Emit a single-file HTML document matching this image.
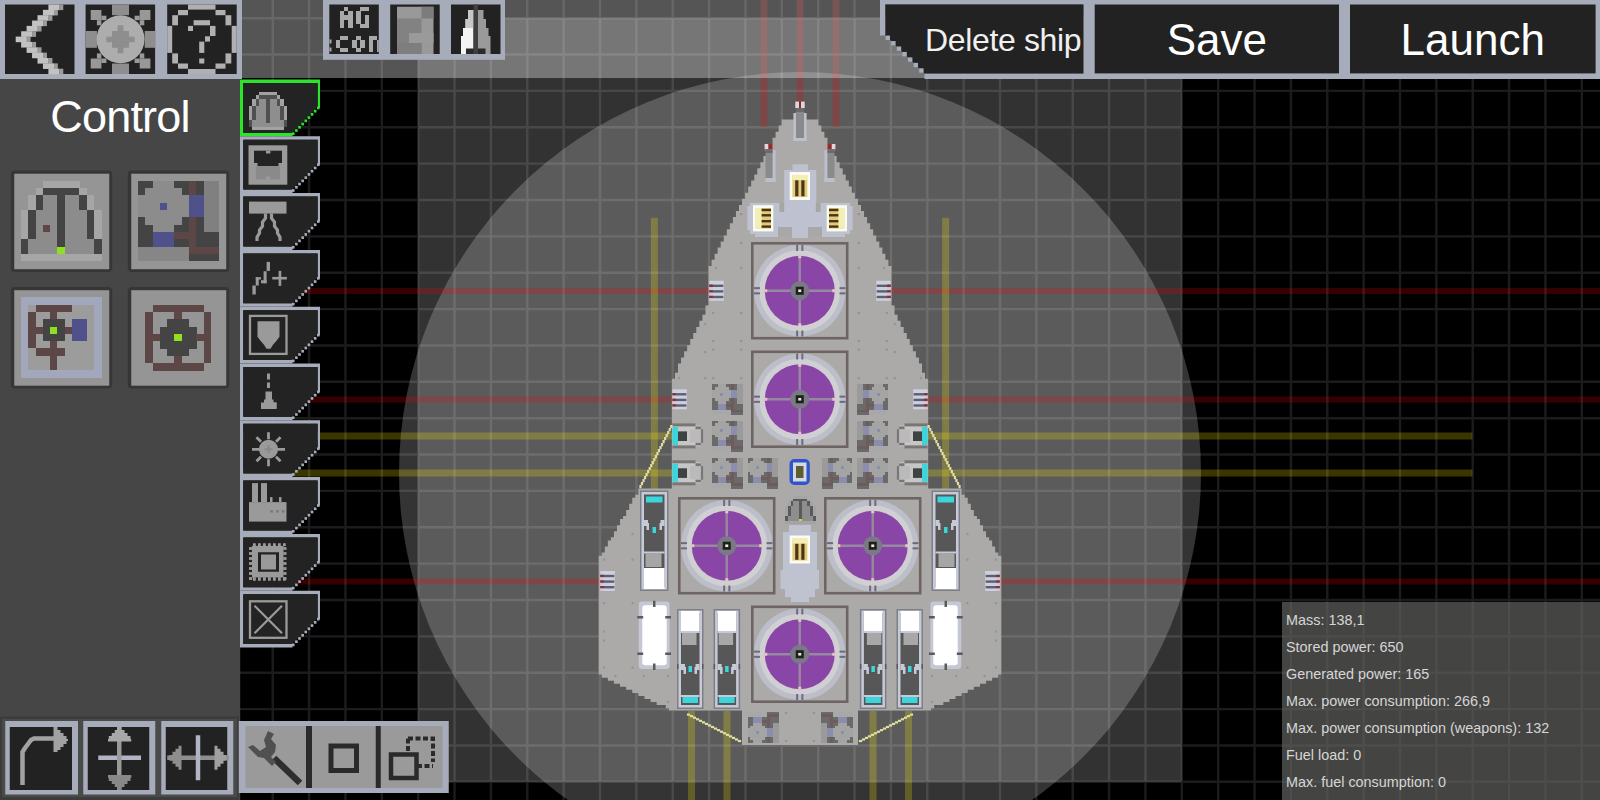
<!DOCTYPE html><html><head><meta charset="utf-8"><style>
*{margin:0;padding:0;box-sizing:border-box}
html,body{width:1600px;height:800px;overflow:hidden;background:#000;font-family:"Liberation Sans",sans-serif}
.a{position:absolute}
.fr{background:#a6abb8}
.dk{background:#222}
</style></head><body><svg width="1600" height="800" viewBox="0 0 1600 800" style="position:absolute;left:0;top:0"><rect x="0" y="0" width="1600" height="800" fill="#000"/><rect x="418.2" y="18.18" width="763.6" height="763.6" fill="#323232"/><path d="M18.18 0V800M54.54 0V800M90.91 0V800M127.27 0V800M163.63 0V800M200 0V800M236.36 0V800M272.73 0V800M309.09 0V800M345.45 0V800M381.82 0V800M418.18 0V800M454.54 0V800M490.91 0V800M527.27 0V800M563.63 0V800M600 0V800M636.36 0V800M672.72 0V800M709.09 0V800M745.45 0V800M781.82 0V800M818.18 0V800M854.54 0V800M890.91 0V800M927.27 0V800M963.63 0V800M1000 0V800M1036.36 0V800M1072.72 0V800M1109.09 0V800M1145.45 0V800M1181.82 0V800M1218.18 0V800M1254.54 0V800M1290.91 0V800M1327.27 0V800M1363.63 0V800M1400 0V800M1436.36 0V800M1472.72 0V800M1509.09 0V800M1545.45 0V800M1581.81 0V800M1618.18 0V800M0 18.18H1600M0 54.54H1600M0 90.91H1600M0 127.27H1600M0 163.63H1600M0 200H1600M0 236.36H1600M0 272.73H1600M0 309.09H1600M0 345.45H1600M0 381.82H1600M0 418.18H1600M0 454.54H1600M0 490.91H1600M0 527.27H1600M0 563.63H1600M0 600H1600M0 636.36H1600M0 672.72H1600M0 709.09H1600M0 745.45H1600M0 781.82H1600M0 818.18H1600" stroke="#fff" stroke-opacity="0.11" stroke-width="2.4" fill="none"/><circle cx="800" cy="473" r="401" fill="#fff" fill-opacity="0.205"/><rect x="240" y="288" width="1360" height="6" fill="#ff0000" fill-opacity="0.21"/><rect x="240" y="396.5" width="1360" height="6" fill="#ff0000" fill-opacity="0.21"/><rect x="240" y="578.5" width="1360" height="6" fill="#ff0000" fill-opacity="0.21"/><rect x="240" y="432.5" width="1232.4" height="7" fill="#fff000" fill-opacity="0.225"/><rect x="240" y="469.5" width="1232.4" height="7" fill="#fff000" fill-opacity="0.225"/><rect x="650.9" y="217.8" width="7" height="272.2" fill="#fff000" fill-opacity="0.225"/><rect x="942.1" y="217.8" width="7" height="272.2" fill="#fff000" fill-opacity="0.225"/><rect x="760.5" y="0" width="7" height="127" fill="#ff0000" fill-opacity="0.21"/><rect x="796.5" y="0" width="7" height="102" fill="#ff0000" fill-opacity="0.21"/><rect x="832.5" y="0" width="7" height="127" fill="#ff0000" fill-opacity="0.21"/><rect x="688" y="711" width="7" height="89" fill="#fff000" fill-opacity="0.225"/><rect x="723.5" y="711" width="7" height="89" fill="#fff000" fill-opacity="0.225"/><rect x="869.5" y="711" width="7" height="89" fill="#fff000" fill-opacity="0.225"/><rect x="905" y="711" width="7" height="89" fill="#fff000" fill-opacity="0.225"/><polygon points="781.7,119.5 781.7,122.55 781.7,122.55 781.7,125.6 778.65,125.6 778.65,128.65 778.65,128.65 778.65,131.7 775.6,131.7 775.6,134.75 775.6,134.75 775.6,137.8 772.55,137.8 772.55,140.85 772.55,140.85 772.55,143.9 769.5,143.9 769.5,146.95 769.5,146.95 769.5,150 766.45,150 766.45,153.05 766.45,153.05 766.45,156.1 763.4,156.1 763.4,159.15 763.4,159.15 763.4,162.2 760.35,162.2 760.35,165.25 760.35,165.25 760.35,168.3 757.3,168.3 757.3,171.35 757.3,171.35 757.3,174.4 754.25,174.4 754.25,177.45 754.25,177.45 754.25,180.5 751.2,180.5 751.2,183.55 751.2,183.55 751.2,186.6 748.15,186.6 748.15,189.65 748.15,189.65 748.15,192.7 745.1,192.7 745.1,195.75 745.1,195.75 745.1,198.8 742.05,198.8 742.05,201.85 742.05,201.85 742.05,204.9 739,204.9 739,207.95 739,207.95 739,211 735.95,211 735.95,214.05 735.95,214.05 735.95,217.1 732.9,217.1 732.9,220.15 732.9,220.15 732.9,223.2 729.85,223.2 729.85,226.25 729.85,226.25 729.85,229.3 726.8,229.3 726.8,232.35 726.8,232.35 726.8,235.4 723.75,235.4 723.75,238.45 723.75,238.45 723.75,241.5 720.7,241.5 720.7,244.55 720.7,244.55 720.7,247.6 717.65,247.6 717.65,250.65 717.65,250.65 717.65,253.7 714.6,253.7 714.6,256.75 714.6,256.75 714.6,259.8 711.55,259.8 711.55,262.85 711.55,262.85 711.55,265.9 708.5,265.9 708.5,268.95 708.5,268.95 708.5,272 708.5,272 708.5,275.05 708.5,275.05 708.5,278.1 708.5,278.1 708.5,281.15 708.5,281.15 708.5,284.2 708.5,284.2 708.5,287.25 708.5,287.25 708.5,290.3 708.5,290.3 708.5,293.35 708.5,293.35 708.5,296.4 708.5,296.4 708.5,299.45 708.5,299.45 708.5,302.5 708.5,302.5 708.5,305.55 705.45,305.55 705.45,308.6 705.45,308.6 705.45,311.65 705.45,311.65 705.45,314.7 702.4,314.7 702.4,317.75 702.4,317.75 702.4,320.8 699.35,320.8 699.35,323.85 699.35,323.85 699.35,326.9 696.3,326.9 696.3,329.95 696.3,329.95 696.3,333 693.25,333 693.25,336.05 693.25,336.05 693.25,339.1 690.2,339.1 690.2,342.15 690.2,342.15 690.2,345.2 687.15,345.2 687.15,348.25 687.15,348.25 687.15,351.3 684.1,351.3 684.1,354.35 684.1,354.35 684.1,357.4 681.05,357.4 681.05,360.45 681.05,360.45 681.05,363.5 678,363.5 678,366.55 678,366.55 678,369.6 678,369.6 678,372.65 674.95,372.65 674.95,375.7 674.95,375.7 674.95,378.75 671.9,378.75 671.9,381.8 671.9,381.8 671.9,384.85 671.9,384.85 671.9,387.9 671.9,387.9 671.9,390.95 671.9,390.95 671.9,394 671.9,394 671.9,397.05 671.9,397.05 671.9,400.1 671.9,400.1 671.9,403.15 671.9,403.15 671.9,406.2 671.9,406.2 671.9,409.25 671.9,409.25 671.9,412.3 671.9,412.3 671.9,415.35 671.9,415.35 671.9,418.4 671.9,418.4 671.9,421.45 671.9,421.45 671.9,424.5 671.9,424.5 671.9,427.55 671.9,427.55 671.9,430.6 671.9,430.6 671.9,433.65 671.9,433.65 671.9,436.7 671.9,436.7 671.9,439.75 671.9,439.75 671.9,442.8 671.9,442.8 671.9,445.85 671.9,445.85 671.9,448.9 671.9,448.9 671.9,451.95 671.9,451.95 671.9,455 671.9,455 671.9,458.05 671.9,458.05 671.9,461.1 671.9,461.1 671.9,464.15 671.9,464.15 671.9,467.2 671.9,467.2 671.9,470.25 671.9,470.25 671.9,473.3 671.9,473.3 671.9,476.35 671.9,476.35 671.9,479.4 671.9,479.4 671.9,482.45 671.9,482.45 671.9,485.5 671.9,485.5 671.9,488.55 638.35,488.55 638.35,491.6 638.35,491.6 638.35,494.65 635.3,494.65 635.3,497.7 632.25,497.7 632.25,500.75 632.25,500.75 632.25,503.8 629.2,503.8 629.2,506.85 629.2,506.85 629.2,509.9 626.15,509.9 626.15,512.95 626.15,512.95 626.15,516 623.1,516 623.1,519.05 620.05,519.05 620.05,522.1 620.05,522.1 620.05,525.15 617,525.15 617,528.2 617,528.2 617,531.25 613.95,531.25 613.95,534.3 613.95,534.3 613.95,537.35 610.9,537.35 610.9,540.4 607.85,540.4 607.85,543.45 607.85,543.45 607.85,546.5 604.8,546.5 604.8,549.55 604.8,549.55 604.8,552.6 601.75,552.6 601.75,555.65 598.7,555.65 598.7,558.7 598.7,558.7 598.7,561.75 598.7,561.75 598.7,564.8 598.7,564.8 598.7,567.85 598.7,567.85 598.7,570.9 598.7,570.9 598.7,573.95 598.7,573.95 598.7,577 598.7,577 598.7,580.05 598.7,580.05 598.7,583.1 598.7,583.1 598.7,586.15 598.7,586.15 598.7,589.2 598.7,589.2 598.7,592.25 598.7,592.25 598.7,595.3 598.7,595.3 598.7,598.35 598.7,598.35 598.7,601.4 598.7,601.4 598.7,604.45 598.7,604.45 598.7,607.5 598.7,607.5 598.7,610.55 598.7,610.55 598.7,613.6 598.7,613.6 598.7,616.65 598.7,616.65 598.7,619.7 598.7,619.7 598.7,622.75 598.7,622.75 598.7,625.8 598.7,625.8 598.7,628.85 598.7,628.85 598.7,631.9 598.7,631.9 598.7,634.95 598.7,634.95 598.7,638 598.7,638 598.7,641.05 598.7,641.05 598.7,644.1 598.7,644.1 598.7,647.15 598.7,647.15 598.7,650.2 598.7,650.2 598.7,653.25 598.7,653.25 598.7,656.3 598.7,656.3 598.7,659.35 598.7,659.35 598.7,662.4 598.7,662.4 598.7,665.45 598.7,665.45 598.7,668.5 598.7,668.5 598.7,671.55 598.7,671.55 598.7,674.6 601.75,674.6 601.75,677.65 607.85,677.65 607.85,680.7 613.95,680.7 613.95,683.75 620.05,683.75 620.05,686.8 626.15,686.8 626.15,689.85 632.25,689.85 632.25,692.9 638.35,692.9 638.35,695.95 644.45,695.95 644.45,699 650.55,699 650.55,702.05 656.65,702.05 656.65,705.1 665.8,705.1 665.8,708.15 668.85,708.15 668.85,710.5 742,710.5 742,745 858,745 858,710.5 931.15,710.5 931.15,708.15 934.2,708.15 934.2,705.1 943.35,705.1 943.35,702.05 949.45,702.05 949.45,699 955.55,699 955.55,695.95 961.65,695.95 961.65,692.9 967.75,692.9 967.75,689.85 973.85,689.85 973.85,686.8 979.95,686.8 979.95,683.75 986.05,683.75 986.05,680.7 992.15,680.7 992.15,677.65 998.25,677.65 998.25,674.6 1001.3,674.6 1001.3,671.55 1001.3,671.55 1001.3,668.5 1001.3,668.5 1001.3,665.45 1001.3,665.45 1001.3,662.4 1001.3,662.4 1001.3,659.35 1001.3,659.35 1001.3,656.3 1001.3,656.3 1001.3,653.25 1001.3,653.25 1001.3,650.2 1001.3,650.2 1001.3,647.15 1001.3,647.15 1001.3,644.1 1001.3,644.1 1001.3,641.05 1001.3,641.05 1001.3,638 1001.3,638 1001.3,634.95 1001.3,634.95 1001.3,631.9 1001.3,631.9 1001.3,628.85 1001.3,628.85 1001.3,625.8 1001.3,625.8 1001.3,622.75 1001.3,622.75 1001.3,619.7 1001.3,619.7 1001.3,616.65 1001.3,616.65 1001.3,613.6 1001.3,613.6 1001.3,610.55 1001.3,610.55 1001.3,607.5 1001.3,607.5 1001.3,604.45 1001.3,604.45 1001.3,601.4 1001.3,601.4 1001.3,598.35 1001.3,598.35 1001.3,595.3 1001.3,595.3 1001.3,592.25 1001.3,592.25 1001.3,589.2 1001.3,589.2 1001.3,586.15 1001.3,586.15 1001.3,583.1 1001.3,583.1 1001.3,580.05 1001.3,580.05 1001.3,577 1001.3,577 1001.3,573.95 1001.3,573.95 1001.3,570.9 1001.3,570.9 1001.3,567.85 1001.3,567.85 1001.3,564.8 1001.3,564.8 1001.3,561.75 1001.3,561.75 1001.3,558.7 1001.3,558.7 1001.3,555.65 998.25,555.65 998.25,552.6 995.2,552.6 995.2,549.55 995.2,549.55 995.2,546.5 992.15,546.5 992.15,543.45 992.15,543.45 992.15,540.4 989.1,540.4 989.1,537.35 986.05,537.35 986.05,534.3 986.05,534.3 986.05,531.25 983,531.25 983,528.2 983,528.2 983,525.15 979.95,525.15 979.95,522.1 979.95,522.1 979.95,519.05 976.9,519.05 976.9,516 973.85,516 973.85,512.95 973.85,512.95 973.85,509.9 970.8,509.9 970.8,506.85 970.8,506.85 970.8,503.8 967.75,503.8 967.75,500.75 967.75,500.75 967.75,497.7 964.7,497.7 964.7,494.65 961.65,494.65 961.65,491.6 961.65,491.6 961.65,488.55 928.1,488.55 928.1,485.5 928.1,485.5 928.1,482.45 928.1,482.45 928.1,479.4 928.1,479.4 928.1,476.35 928.1,476.35 928.1,473.3 928.1,473.3 928.1,470.25 928.1,470.25 928.1,467.2 928.1,467.2 928.1,464.15 928.1,464.15 928.1,461.1 928.1,461.1 928.1,458.05 928.1,458.05 928.1,455 928.1,455 928.1,451.95 928.1,451.95 928.1,448.9 928.1,448.9 928.1,445.85 928.1,445.85 928.1,442.8 928.1,442.8 928.1,439.75 928.1,439.75 928.1,436.7 928.1,436.7 928.1,433.65 928.1,433.65 928.1,430.6 928.1,430.6 928.1,427.55 928.1,427.55 928.1,424.5 928.1,424.5 928.1,421.45 928.1,421.45 928.1,418.4 928.1,418.4 928.1,415.35 928.1,415.35 928.1,412.3 928.1,412.3 928.1,409.25 928.1,409.25 928.1,406.2 928.1,406.2 928.1,403.15 928.1,403.15 928.1,400.1 928.1,400.1 928.1,397.05 928.1,397.05 928.1,394 928.1,394 928.1,390.95 928.1,390.95 928.1,387.9 928.1,387.9 928.1,384.85 928.1,384.85 928.1,381.8 928.1,381.8 928.1,378.75 925.05,378.75 925.05,375.7 925.05,375.7 925.05,372.65 922,372.65 922,369.6 922,369.6 922,366.55 922,366.55 922,363.5 918.95,363.5 918.95,360.45 918.95,360.45 918.95,357.4 915.9,357.4 915.9,354.35 915.9,354.35 915.9,351.3 912.85,351.3 912.85,348.25 912.85,348.25 912.85,345.2 909.8,345.2 909.8,342.15 909.8,342.15 909.8,339.1 906.75,339.1 906.75,336.05 906.75,336.05 906.75,333 903.7,333 903.7,329.95 903.7,329.95 903.7,326.9 900.65,326.9 900.65,323.85 900.65,323.85 900.65,320.8 897.6,320.8 897.6,317.75 897.6,317.75 897.6,314.7 894.55,314.7 894.55,311.65 894.55,311.65 894.55,308.6 894.55,308.6 894.55,305.55 891.5,305.55 891.5,302.5 891.5,302.5 891.5,299.45 891.5,299.45 891.5,296.4 891.5,296.4 891.5,293.35 891.5,293.35 891.5,290.3 891.5,290.3 891.5,287.25 891.5,287.25 891.5,284.2 891.5,284.2 891.5,281.15 891.5,281.15 891.5,278.1 891.5,278.1 891.5,275.05 891.5,275.05 891.5,272 891.5,272 891.5,268.95 891.5,268.95 891.5,265.9 888.45,265.9 888.45,262.85 888.45,262.85 888.45,259.8 885.4,259.8 885.4,256.75 885.4,256.75 885.4,253.7 882.35,253.7 882.35,250.65 882.35,250.65 882.35,247.6 879.3,247.6 879.3,244.55 879.3,244.55 879.3,241.5 876.25,241.5 876.25,238.45 876.25,238.45 876.25,235.4 873.2,235.4 873.2,232.35 873.2,232.35 873.2,229.3 870.15,229.3 870.15,226.25 870.15,226.25 870.15,223.2 867.1,223.2 867.1,220.15 867.1,220.15 867.1,217.1 864.05,217.1 864.05,214.05 864.05,214.05 864.05,211 861,211 861,207.95 861,207.95 861,204.9 857.95,204.9 857.95,201.85 857.95,201.85 857.95,198.8 854.9,198.8 854.9,195.75 854.9,195.75 854.9,192.7 851.85,192.7 851.85,189.65 851.85,189.65 851.85,186.6 848.8,186.6 848.8,183.55 848.8,183.55 848.8,180.5 845.75,180.5 845.75,177.45 845.75,177.45 845.75,174.4 842.7,174.4 842.7,171.35 842.7,171.35 842.7,168.3 839.65,168.3 839.65,165.25 839.65,165.25 839.65,162.2 836.6,162.2 836.6,159.15 836.6,159.15 836.6,156.1 833.55,156.1 833.55,153.05 833.55,153.05 833.55,150 830.5,150 830.5,146.95 830.5,146.95 830.5,143.9 827.45,143.9 827.45,140.85 827.45,140.85 827.45,137.8 824.4,137.8 824.4,134.75 824.4,134.75 824.4,131.7 821.35,131.7 821.35,128.65 821.35,128.65 821.35,125.6 818.3,125.6 818.3,122.55 818.3,122.55 818.3,119.5" fill="#abaaa8"/><rect x="772.5" y="150" width="3" height="32" fill="#bcc0cc"/><rect x="765.5" y="178" width="10" height="4" fill="#bcc0cc"/><rect x="764.6" y="144" width="3.9" height="5.4" fill="#e4d4d4"/><rect x="768.5" y="144" width="4" height="5.4" fill="#9a2a2a"/><rect x="765.5" y="149.4" width="7" height="28.6" fill="#8a8a8a"/><rect x="765.5" y="149.4" width="7" height="3.6" fill="#6a6a6a"/><rect x="750" y="203" width="50" height="31" fill="#bec2d0"/><rect x="747.4" y="206" width="4.6" height="24" fill="#bec2d0"/><rect x="779.4" y="203" width="4.8" height="9" fill="#a6a6a6"/><rect x="778" y="227" width="14" height="9" fill="#a8a8a8"/><rect x="755" y="234" width="23" height="3" fill="#bec2d0"/><rect x="753" y="205.2" width="20.3" height="26.2" fill="#fbfbf2"/><rect x="755.7" y="208" width="15.3" height="20.6" fill="#e2cc7c"/><rect x="755.7" y="208" width="5.9" height="20.6" fill="#f2eeb4"/><rect x="761.6" y="208.8" width="9.4" height="2.4" fill="#4a3418"/><rect x="761.6" y="214.1" width="9.4" height="2.4" fill="#4a3418"/><rect x="761.6" y="220" width="9.4" height="2.4" fill="#4a3418"/><rect x="761.6" y="225.4" width="9.4" height="2.4" fill="#4a3418"/><rect x="709.3" y="280.8" width="14.5" height="20" fill="#cdd1dd"/><rect x="709.3" y="284.6" width="14" height="2.4" fill="#5e5e72"/><rect x="709.3" y="284.6" width="3.5" height="2.4" fill="#7a3448"/><rect x="709.3" y="287" width="3.5" height="1.6" fill="#e8b8c0"/><rect x="709.3" y="290.2" width="14" height="2.4" fill="#5e5e72"/><rect x="709.3" y="290.2" width="3.5" height="2.4" fill="#7a3448"/><rect x="709.3" y="292.6" width="3.5" height="1.6" fill="#e8b8c0"/><rect x="709.3" y="295.8" width="14" height="2.4" fill="#5e5e72"/><rect x="709.3" y="295.8" width="3.5" height="2.4" fill="#7a3448"/><rect x="709.3" y="298.2" width="3.5" height="1.6" fill="#e8b8c0"/><rect x="672.4" y="389.3" width="14.5" height="20" fill="#cdd1dd"/><rect x="672.4" y="393.1" width="14" height="2.4" fill="#5e5e72"/><rect x="672.4" y="393.1" width="3.5" height="2.4" fill="#7a3448"/><rect x="672.4" y="395.5" width="3.5" height="1.6" fill="#e8b8c0"/><rect x="672.4" y="398.7" width="14" height="2.4" fill="#5e5e72"/><rect x="672.4" y="398.7" width="3.5" height="2.4" fill="#7a3448"/><rect x="672.4" y="401.1" width="3.5" height="1.6" fill="#e8b8c0"/><rect x="672.4" y="404.3" width="14" height="2.4" fill="#5e5e72"/><rect x="672.4" y="404.3" width="3.5" height="2.4" fill="#7a3448"/><rect x="672.4" y="406.7" width="3.5" height="1.6" fill="#e8b8c0"/><rect x="600.3" y="571" width="14.5" height="20" fill="#cdd1dd"/><rect x="600.3" y="574.8" width="14" height="2.4" fill="#5e5e72"/><rect x="600.3" y="574.8" width="3.5" height="2.4" fill="#7a3448"/><rect x="600.3" y="577.2" width="3.5" height="1.6" fill="#e8b8c0"/><rect x="600.3" y="580.4" width="14" height="2.4" fill="#5e5e72"/><rect x="600.3" y="580.4" width="3.5" height="2.4" fill="#7a3448"/><rect x="600.3" y="582.8" width="3.5" height="1.6" fill="#e8b8c0"/><rect x="600.3" y="586" width="14" height="2.4" fill="#5e5e72"/><rect x="600.3" y="586" width="3.5" height="2.4" fill="#7a3448"/><rect x="600.3" y="588.4" width="3.5" height="1.6" fill="#e8b8c0"/><g shape-rendering="crispEdges"><rect x="712" y="384.3" width="5.8" height="3.1" fill="#6a6a6a"/><rect x="717.5" y="384.3" width="8.55" height="3.1" fill="#a4a4a4"/><rect x="725.75" y="384.3" width="5.8" height="3.1" fill="#6a6a6a"/><rect x="731.25" y="384.3" width="3.05" height="3.1" fill="#6e5c5c"/><rect x="734" y="384.3" width="3.05" height="3.1" fill="#6a6a6a"/><rect x="736.75" y="384.3" width="5.8" height="3.1" fill="#9a9a9a"/><rect x="712" y="387.1" width="3.05" height="3.1" fill="#6a6a6a"/><rect x="714.75" y="387.1" width="14.05" height="3.1" fill="#a4a4a4"/><rect x="728.5" y="387.1" width="3.05" height="3.1" fill="#6a6a6a"/><rect x="731.25" y="387.1" width="3.05" height="3.1" fill="#6e5c5c"/><rect x="734" y="387.1" width="3.05" height="3.1" fill="#6a6a6a"/><rect x="736.75" y="387.1" width="5.8" height="3.1" fill="#9a9a9a"/><rect x="712" y="389.9" width="19.55" height="3.1" fill="#a4a4a4"/><rect x="731.25" y="389.9" width="5.8" height="3.1" fill="#8c8cac"/><rect x="736.75" y="389.9" width="5.8" height="3.1" fill="#9a9a9a"/><rect x="712" y="392.7" width="8.55" height="3.1" fill="#a4a4a4"/><rect x="720.25" y="392.7" width="3.05" height="3.1" fill="#8c8cac"/><rect x="723" y="392.7" width="8.55" height="3.1" fill="#a4a4a4"/><rect x="731.25" y="392.7" width="5.8" height="3.1" fill="#8c8cac"/><rect x="736.75" y="392.7" width="5.8" height="3.1" fill="#9a9a9a"/><rect x="712" y="395.5" width="19.55" height="3.1" fill="#a4a4a4"/><rect x="731.25" y="395.5" width="5.8" height="3.1" fill="#8c8cac"/><rect x="736.75" y="395.5" width="5.8" height="3.1" fill="#9a9a9a"/><rect x="712" y="398.3" width="3.05" height="3.1" fill="#6a6a6a"/><rect x="714.75" y="398.3" width="14.05" height="3.1" fill="#a4a4a4"/><rect x="728.5" y="398.3" width="3.05" height="3.1" fill="#6a6a6a"/><rect x="731.25" y="398.3" width="3.05" height="3.1" fill="#6e5c5c"/><rect x="734" y="398.3" width="3.05" height="3.1" fill="#6a6a6a"/><rect x="736.75" y="398.3" width="5.8" height="3.1" fill="#9a9a9a"/><rect x="712" y="401.1" width="5.8" height="3.1" fill="#6a6a6a"/><rect x="717.5" y="401.1" width="8.55" height="3.1" fill="#a4a4a4"/><rect x="725.75" y="401.1" width="5.8" height="3.1" fill="#6a6a6a"/><rect x="731.25" y="401.1" width="3.05" height="3.1" fill="#6e5c5c"/><rect x="734" y="401.1" width="3.05" height="3.1" fill="#6a6a6a"/><rect x="736.75" y="401.1" width="5.8" height="3.1" fill="#9a9a9a"/><rect x="712" y="403.9" width="5.8" height="3.1" fill="#6a6a6a"/><rect x="717.5" y="403.9" width="8.55" height="3.1" fill="#8c8cac"/><rect x="725.75" y="403.9" width="8.55" height="3.1" fill="#6e5c5c"/><rect x="734" y="403.9" width="8.55" height="3.1" fill="#6a6a6a"/><rect x="712" y="406.7" width="5.8" height="3.1" fill="#6a6a6a"/><rect x="717.5" y="406.7" width="8.55" height="3.1" fill="#8c8cac"/><rect x="725.75" y="406.7" width="5.8" height="3.1" fill="#6a6a6a"/><rect x="731.25" y="406.7" width="3.05" height="3.1" fill="#6e5c5c"/><rect x="734" y="406.7" width="8.55" height="3.1" fill="#6a6a6a"/><rect x="712" y="409.5" width="19.55" height="3.1" fill="#a8a8a8"/><rect x="731.25" y="409.5" width="11.3" height="3.1" fill="#6e5c5c"/><rect x="712" y="412.3" width="19.55" height="3.1" fill="#a8a8a8"/><rect x="731.25" y="412.3" width="11.3" height="3.1" fill="#6a6a6a"/></g><g shape-rendering="crispEdges"><rect x="712" y="420.6" width="5.8" height="3.1" fill="#6a6a6a"/><rect x="717.5" y="420.6" width="8.55" height="3.1" fill="#a4a4a4"/><rect x="725.75" y="420.6" width="5.8" height="3.1" fill="#6a6a6a"/><rect x="731.25" y="420.6" width="3.05" height="3.1" fill="#6e5c5c"/><rect x="734" y="420.6" width="3.05" height="3.1" fill="#6a6a6a"/><rect x="736.75" y="420.6" width="5.8" height="3.1" fill="#9a9a9a"/><rect x="712" y="423.4" width="3.05" height="3.1" fill="#6a6a6a"/><rect x="714.75" y="423.4" width="14.05" height="3.1" fill="#a4a4a4"/><rect x="728.5" y="423.4" width="3.05" height="3.1" fill="#6a6a6a"/><rect x="731.25" y="423.4" width="3.05" height="3.1" fill="#6e5c5c"/><rect x="734" y="423.4" width="3.05" height="3.1" fill="#6a6a6a"/><rect x="736.75" y="423.4" width="5.8" height="3.1" fill="#9a9a9a"/><rect x="712" y="426.2" width="19.55" height="3.1" fill="#a4a4a4"/><rect x="731.25" y="426.2" width="5.8" height="3.1" fill="#8c8cac"/><rect x="736.75" y="426.2" width="5.8" height="3.1" fill="#9a9a9a"/><rect x="712" y="429" width="8.55" height="3.1" fill="#a4a4a4"/><rect x="720.25" y="429" width="3.05" height="3.1" fill="#8c8cac"/><rect x="723" y="429" width="8.55" height="3.1" fill="#a4a4a4"/><rect x="731.25" y="429" width="5.8" height="3.1" fill="#8c8cac"/><rect x="736.75" y="429" width="5.8" height="3.1" fill="#9a9a9a"/><rect x="712" y="431.8" width="19.55" height="3.1" fill="#a4a4a4"/><rect x="731.25" y="431.8" width="5.8" height="3.1" fill="#8c8cac"/><rect x="736.75" y="431.8" width="5.8" height="3.1" fill="#9a9a9a"/><rect x="712" y="434.6" width="3.05" height="3.1" fill="#6a6a6a"/><rect x="714.75" y="434.6" width="14.05" height="3.1" fill="#a4a4a4"/><rect x="728.5" y="434.6" width="3.05" height="3.1" fill="#6a6a6a"/><rect x="731.25" y="434.6" width="3.05" height="3.1" fill="#6e5c5c"/><rect x="734" y="434.6" width="3.05" height="3.1" fill="#6a6a6a"/><rect x="736.75" y="434.6" width="5.8" height="3.1" fill="#9a9a9a"/><rect x="712" y="437.4" width="5.8" height="3.1" fill="#6a6a6a"/><rect x="717.5" y="437.4" width="8.55" height="3.1" fill="#a4a4a4"/><rect x="725.75" y="437.4" width="5.8" height="3.1" fill="#6a6a6a"/><rect x="731.25" y="437.4" width="3.05" height="3.1" fill="#6e5c5c"/><rect x="734" y="437.4" width="3.05" height="3.1" fill="#6a6a6a"/><rect x="736.75" y="437.4" width="5.8" height="3.1" fill="#9a9a9a"/><rect x="712" y="440.2" width="5.8" height="3.1" fill="#6a6a6a"/><rect x="717.5" y="440.2" width="8.55" height="3.1" fill="#8c8cac"/><rect x="725.75" y="440.2" width="8.55" height="3.1" fill="#6e5c5c"/><rect x="734" y="440.2" width="8.55" height="3.1" fill="#6a6a6a"/><rect x="712" y="443" width="5.8" height="3.1" fill="#6a6a6a"/><rect x="717.5" y="443" width="8.55" height="3.1" fill="#8c8cac"/><rect x="725.75" y="443" width="5.8" height="3.1" fill="#6a6a6a"/><rect x="731.25" y="443" width="3.05" height="3.1" fill="#6e5c5c"/><rect x="734" y="443" width="8.55" height="3.1" fill="#6a6a6a"/><rect x="712" y="445.8" width="19.55" height="3.1" fill="#a8a8a8"/><rect x="731.25" y="445.8" width="11.3" height="3.1" fill="#6e5c5c"/><rect x="712" y="448.6" width="19.55" height="3.1" fill="#a8a8a8"/><rect x="731.25" y="448.6" width="11.3" height="3.1" fill="#6a6a6a"/></g><g shape-rendering="crispEdges"><rect x="712" y="457.7" width="5.8" height="3.1" fill="#6a6a6a"/><rect x="717.5" y="457.7" width="8.55" height="3.1" fill="#a4a4a4"/><rect x="725.75" y="457.7" width="5.8" height="3.1" fill="#6a6a6a"/><rect x="731.25" y="457.7" width="3.05" height="3.1" fill="#6e5c5c"/><rect x="734" y="457.7" width="3.05" height="3.1" fill="#6a6a6a"/><rect x="736.75" y="457.7" width="5.8" height="3.1" fill="#9a9a9a"/><rect x="712" y="460.5" width="3.05" height="3.1" fill="#6a6a6a"/><rect x="714.75" y="460.5" width="14.05" height="3.1" fill="#a4a4a4"/><rect x="728.5" y="460.5" width="3.05" height="3.1" fill="#6a6a6a"/><rect x="731.25" y="460.5" width="3.05" height="3.1" fill="#6e5c5c"/><rect x="734" y="460.5" width="3.05" height="3.1" fill="#6a6a6a"/><rect x="736.75" y="460.5" width="5.8" height="3.1" fill="#9a9a9a"/><rect x="712" y="463.3" width="19.55" height="3.1" fill="#a4a4a4"/><rect x="731.25" y="463.3" width="5.8" height="3.1" fill="#8c8cac"/><rect x="736.75" y="463.3" width="5.8" height="3.1" fill="#9a9a9a"/><rect x="712" y="466.1" width="8.55" height="3.1" fill="#a4a4a4"/><rect x="720.25" y="466.1" width="3.05" height="3.1" fill="#8c8cac"/><rect x="723" y="466.1" width="8.55" height="3.1" fill="#a4a4a4"/><rect x="731.25" y="466.1" width="5.8" height="3.1" fill="#8c8cac"/><rect x="736.75" y="466.1" width="5.8" height="3.1" fill="#9a9a9a"/><rect x="712" y="468.9" width="19.55" height="3.1" fill="#a4a4a4"/><rect x="731.25" y="468.9" width="5.8" height="3.1" fill="#8c8cac"/><rect x="736.75" y="468.9" width="5.8" height="3.1" fill="#9a9a9a"/><rect x="712" y="471.7" width="3.05" height="3.1" fill="#6a6a6a"/><rect x="714.75" y="471.7" width="14.05" height="3.1" fill="#a4a4a4"/><rect x="728.5" y="471.7" width="3.05" height="3.1" fill="#6a6a6a"/><rect x="731.25" y="471.7" width="3.05" height="3.1" fill="#6e5c5c"/><rect x="734" y="471.7" width="3.05" height="3.1" fill="#6a6a6a"/><rect x="736.75" y="471.7" width="5.8" height="3.1" fill="#9a9a9a"/><rect x="712" y="474.5" width="5.8" height="3.1" fill="#6a6a6a"/><rect x="717.5" y="474.5" width="8.55" height="3.1" fill="#a4a4a4"/><rect x="725.75" y="474.5" width="5.8" height="3.1" fill="#6a6a6a"/><rect x="731.25" y="474.5" width="3.05" height="3.1" fill="#6e5c5c"/><rect x="734" y="474.5" width="3.05" height="3.1" fill="#6a6a6a"/><rect x="736.75" y="474.5" width="5.8" height="3.1" fill="#9a9a9a"/><rect x="712" y="477.3" width="5.8" height="3.1" fill="#6a6a6a"/><rect x="717.5" y="477.3" width="8.55" height="3.1" fill="#8c8cac"/><rect x="725.75" y="477.3" width="8.55" height="3.1" fill="#6e5c5c"/><rect x="734" y="477.3" width="8.55" height="3.1" fill="#6a6a6a"/><rect x="712" y="480.1" width="5.8" height="3.1" fill="#6a6a6a"/><rect x="717.5" y="480.1" width="8.55" height="3.1" fill="#8c8cac"/><rect x="725.75" y="480.1" width="5.8" height="3.1" fill="#6a6a6a"/><rect x="731.25" y="480.1" width="3.05" height="3.1" fill="#6e5c5c"/><rect x="734" y="480.1" width="8.55" height="3.1" fill="#6a6a6a"/><rect x="712" y="482.9" width="19.55" height="3.1" fill="#a8a8a8"/><rect x="731.25" y="482.9" width="11.3" height="3.1" fill="#6e5c5c"/><rect x="712" y="485.7" width="19.55" height="3.1" fill="#a8a8a8"/><rect x="731.25" y="485.7" width="11.3" height="3.1" fill="#6a6a6a"/></g><g shape-rendering="crispEdges"><rect x="747.7" y="457.7" width="5.8" height="3.1" fill="#6a6a6a"/><rect x="753.2" y="457.7" width="8.55" height="3.1" fill="#a4a4a4"/><rect x="761.45" y="457.7" width="5.8" height="3.1" fill="#6a6a6a"/><rect x="766.95" y="457.7" width="3.05" height="3.1" fill="#6e5c5c"/><rect x="769.7" y="457.7" width="3.05" height="3.1" fill="#6a6a6a"/><rect x="772.45" y="457.7" width="5.8" height="3.1" fill="#9a9a9a"/><rect x="747.7" y="460.5" width="3.05" height="3.1" fill="#6a6a6a"/><rect x="750.45" y="460.5" width="14.05" height="3.1" fill="#a4a4a4"/><rect x="764.2" y="460.5" width="3.05" height="3.1" fill="#6a6a6a"/><rect x="766.95" y="460.5" width="3.05" height="3.1" fill="#6e5c5c"/><rect x="769.7" y="460.5" width="3.05" height="3.1" fill="#6a6a6a"/><rect x="772.45" y="460.5" width="5.8" height="3.1" fill="#9a9a9a"/><rect x="747.7" y="463.3" width="19.55" height="3.1" fill="#a4a4a4"/><rect x="766.95" y="463.3" width="5.8" height="3.1" fill="#8c8cac"/><rect x="772.45" y="463.3" width="5.8" height="3.1" fill="#9a9a9a"/><rect x="747.7" y="466.1" width="8.55" height="3.1" fill="#a4a4a4"/><rect x="755.95" y="466.1" width="3.05" height="3.1" fill="#8c8cac"/><rect x="758.7" y="466.1" width="8.55" height="3.1" fill="#a4a4a4"/><rect x="766.95" y="466.1" width="5.8" height="3.1" fill="#8c8cac"/><rect x="772.45" y="466.1" width="5.8" height="3.1" fill="#9a9a9a"/><rect x="747.7" y="468.9" width="19.55" height="3.1" fill="#a4a4a4"/><rect x="766.95" y="468.9" width="5.8" height="3.1" fill="#8c8cac"/><rect x="772.45" y="468.9" width="5.8" height="3.1" fill="#9a9a9a"/><rect x="747.7" y="471.7" width="3.05" height="3.1" fill="#6a6a6a"/><rect x="750.45" y="471.7" width="14.05" height="3.1" fill="#a4a4a4"/><rect x="764.2" y="471.7" width="3.05" height="3.1" fill="#6a6a6a"/><rect x="766.95" y="471.7" width="3.05" height="3.1" fill="#6e5c5c"/><rect x="769.7" y="471.7" width="3.05" height="3.1" fill="#6a6a6a"/><rect x="772.45" y="471.7" width="5.8" height="3.1" fill="#9a9a9a"/><rect x="747.7" y="474.5" width="5.8" height="3.1" fill="#6a6a6a"/><rect x="753.2" y="474.5" width="8.55" height="3.1" fill="#a4a4a4"/><rect x="761.45" y="474.5" width="5.8" height="3.1" fill="#6a6a6a"/><rect x="766.95" y="474.5" width="3.05" height="3.1" fill="#6e5c5c"/><rect x="769.7" y="474.5" width="3.05" height="3.1" fill="#6a6a6a"/><rect x="772.45" y="474.5" width="5.8" height="3.1" fill="#9a9a9a"/><rect x="747.7" y="477.3" width="5.8" height="3.1" fill="#6a6a6a"/><rect x="753.2" y="477.3" width="8.55" height="3.1" fill="#8c8cac"/><rect x="761.45" y="477.3" width="8.55" height="3.1" fill="#6e5c5c"/><rect x="769.7" y="477.3" width="8.55" height="3.1" fill="#6a6a6a"/><rect x="747.7" y="480.1" width="5.8" height="3.1" fill="#6a6a6a"/><rect x="753.2" y="480.1" width="8.55" height="3.1" fill="#8c8cac"/><rect x="761.45" y="480.1" width="5.8" height="3.1" fill="#6a6a6a"/><rect x="766.95" y="480.1" width="3.05" height="3.1" fill="#6e5c5c"/><rect x="769.7" y="480.1" width="8.55" height="3.1" fill="#6a6a6a"/><rect x="747.7" y="482.9" width="19.55" height="3.1" fill="#a8a8a8"/><rect x="766.95" y="482.9" width="11.3" height="3.1" fill="#6e5c5c"/><rect x="747.7" y="485.7" width="19.55" height="3.1" fill="#a8a8a8"/><rect x="766.95" y="485.7" width="11.3" height="3.1" fill="#6a6a6a"/></g><rect x="672.4" y="425.4" width="28.5" height="21" fill="#c6c6c6"/><rect x="690" y="429.4" width="10.9" height="13" fill="#bababa"/><rect x="672.4" y="423.4" width="23.1" height="3" fill="#7a7676"/><rect x="672.4" y="445.4" width="23.1" height="3" fill="#7a7676"/><rect x="695.5" y="426.4" width="5.4" height="2.8" fill="#7a7676"/><rect x="695.5" y="442.8" width="5.4" height="2.6" fill="#7a7676"/><rect x="700.9" y="429.2" width="2.2" height="13.6" fill="#7a7676"/><rect x="672.4" y="427" width="5.6" height="18" fill="#3ad6dc"/><rect x="678" y="431.4" width="9" height="9.6" fill="#3e4242"/><rect x="672.4" y="462.3" width="28.5" height="21" fill="#c6c6c6"/><rect x="690" y="466.3" width="10.9" height="13" fill="#bababa"/><rect x="672.4" y="460.3" width="23.1" height="3" fill="#7a7676"/><rect x="672.4" y="482.3" width="23.1" height="3" fill="#7a7676"/><rect x="695.5" y="463.3" width="5.4" height="2.8" fill="#7a7676"/><rect x="695.5" y="479.7" width="5.4" height="2.6" fill="#7a7676"/><rect x="700.9" y="466.1" width="2.2" height="13.6" fill="#7a7676"/><rect x="672.4" y="463.9" width="5.6" height="18" fill="#3ad6dc"/><rect x="678" y="468.3" width="9" height="9.6" fill="#3e4242"/><rect x="640" y="490.5" width="28.5" height="100.5" fill="#7e7e88"/><rect x="641.5" y="492" width="25.5" height="97.5" fill="#c6cad6"/><rect x="644" y="494.5" width="20.5" height="92.5" fill="#575757"/><rect x="646" y="496.5" width="16.5" height="6" fill="#3ad6dc"/><rect x="644" y="520" width="4" height="6" fill="#c6cad6"/><rect x="660.5" y="520" width="4" height="6" fill="#c6cad6"/><rect x="646.5" y="523" width="2.5" height="7" fill="#c6cad6"/><rect x="659.5" y="523" width="2.5" height="7" fill="#c6cad6"/><rect x="652.5" y="527" width="3.5" height="6" fill="#3ad6dc"/><rect x="645.5" y="553.5" width="16" height="13.5" fill="#a6a6a6"/><rect x="644" y="551.5" width="20.5" height="2" fill="#c6cad6"/><rect x="644" y="568" width="20.5" height="21" fill="#ffffff"/><rect x="638.8" y="601.5" width="30.8" height="67.5" rx="3" fill="#c4c8d4"/><rect x="642.3" y="605.2" width="24.4" height="60.1" rx="3" fill="#fff"/><rect x="653" y="600.8" width="2.5" height="6.2" fill="#5a5a5a"/><rect x="653" y="663.5" width="2.5" height="6.5" fill="#5a5a5a"/><rect x="637.3" y="616" width="5.9" height="2.5" fill="#5a5a5a"/><rect x="665.2" y="616" width="5.8" height="2.5" fill="#5a5a5a"/><rect x="637.3" y="652.5" width="5.9" height="2.5" fill="#5a5a5a"/><rect x="665.2" y="652.5" width="5.8" height="2.5" fill="#5a5a5a"/><rect x="677" y="609" width="26.5" height="100" fill="#7e7e88"/><rect x="678.5" y="610.5" width="23.5" height="97" fill="#c6cad6"/><rect x="681" y="613" width="18.5" height="92" fill="#575757"/><rect x="681" y="611" width="18.5" height="20" fill="#ffffff"/><rect x="681" y="631" width="18.5" height="2" fill="#c6cad6"/><rect x="682" y="633" width="14.5" height="12" fill="#a8a8a8"/><rect x="681" y="664" width="4" height="6" fill="#c6cad6"/><rect x="695.5" y="664" width="4" height="6" fill="#c6cad6"/><rect x="683.5" y="667" width="2.5" height="7" fill="#c6cad6"/><rect x="694.5" y="667" width="2.5" height="7" fill="#c6cad6"/><rect x="677" y="664" width="1.5" height="5" fill="#5a5a5a"/><rect x="702" y="664" width="1.5" height="5" fill="#5a5a5a"/><rect x="688.5" y="666" width="3.5" height="6" fill="#3ad6dc"/><rect x="681" y="695" width="18.5" height="2" fill="#c6cad6"/><rect x="682.5" y="697" width="15.5" height="6" fill="#3ad6dc"/><rect x="713.6" y="609" width="26.5" height="100" fill="#7e7e88"/><rect x="715.1" y="610.5" width="23.5" height="97" fill="#c6cad6"/><rect x="717.6" y="613" width="18.5" height="92" fill="#575757"/><rect x="717.6" y="611" width="18.5" height="20" fill="#ffffff"/><rect x="717.6" y="631" width="18.5" height="2" fill="#c6cad6"/><rect x="718.6" y="633" width="14.5" height="12" fill="#a8a8a8"/><rect x="717.6" y="664" width="4" height="6" fill="#c6cad6"/><rect x="732.1" y="664" width="4" height="6" fill="#c6cad6"/><rect x="720.1" y="667" width="2.5" height="7" fill="#c6cad6"/><rect x="731.1" y="667" width="2.5" height="7" fill="#c6cad6"/><rect x="713.6" y="664" width="1.5" height="5" fill="#5a5a5a"/><rect x="738.6" y="664" width="1.5" height="5" fill="#5a5a5a"/><rect x="725.1" y="666" width="3.5" height="6" fill="#3ad6dc"/><rect x="717.6" y="695" width="18.5" height="2" fill="#c6cad6"/><rect x="719.1" y="697" width="15.5" height="6" fill="#3ad6dc"/><g shape-rendering="crispEdges"><rect x="747.5" y="711.5" width="20.25" height="3.1" fill="#a8a8a8"/><rect x="767.45" y="711.5" width="11.7" height="3.1" fill="#6a6a6a"/><rect x="747.5" y="714.3" width="20.25" height="3.1" fill="#a8a8a8"/><rect x="767.45" y="714.3" width="11.7" height="3.1" fill="#6e5c5c"/><rect x="747.5" y="717.1" width="6" height="3.1" fill="#6a6a6a"/><rect x="753.2" y="717.1" width="8.85" height="3.1" fill="#8c8cac"/><rect x="761.75" y="717.1" width="6" height="3.1" fill="#6a6a6a"/><rect x="767.45" y="717.1" width="3.15" height="3.1" fill="#6e5c5c"/><rect x="770.3" y="717.1" width="8.85" height="3.1" fill="#6a6a6a"/><rect x="747.5" y="719.9" width="6" height="3.1" fill="#6a6a6a"/><rect x="753.2" y="719.9" width="8.85" height="3.1" fill="#8c8cac"/><rect x="761.75" y="719.9" width="8.85" height="3.1" fill="#6e5c5c"/><rect x="770.3" y="719.9" width="8.85" height="3.1" fill="#6a6a6a"/><rect x="747.5" y="722.7" width="6" height="3.1" fill="#6a6a6a"/><rect x="753.2" y="722.7" width="8.85" height="3.1" fill="#a4a4a4"/><rect x="761.75" y="722.7" width="6" height="3.1" fill="#6a6a6a"/><rect x="767.45" y="722.7" width="3.15" height="3.1" fill="#6e5c5c"/><rect x="770.3" y="722.7" width="3.15" height="3.1" fill="#6a6a6a"/><rect x="773.15" y="722.7" width="6" height="3.1" fill="#9a9a9a"/><rect x="747.5" y="725.5" width="3.15" height="3.1" fill="#6a6a6a"/><rect x="750.35" y="725.5" width="14.55" height="3.1" fill="#a4a4a4"/><rect x="764.6" y="725.5" width="3.15" height="3.1" fill="#6a6a6a"/><rect x="767.45" y="725.5" width="3.15" height="3.1" fill="#6e5c5c"/><rect x="770.3" y="725.5" width="3.15" height="3.1" fill="#6a6a6a"/><rect x="773.15" y="725.5" width="6" height="3.1" fill="#9a9a9a"/><rect x="747.5" y="728.3" width="20.25" height="3.1" fill="#a4a4a4"/><rect x="767.45" y="728.3" width="6" height="3.1" fill="#8c8cac"/><rect x="773.15" y="728.3" width="6" height="3.1" fill="#9a9a9a"/><rect x="747.5" y="731.1" width="8.85" height="3.1" fill="#a4a4a4"/><rect x="756.05" y="731.1" width="3.15" height="3.1" fill="#8c8cac"/><rect x="758.9" y="731.1" width="8.85" height="3.1" fill="#a4a4a4"/><rect x="767.45" y="731.1" width="6" height="3.1" fill="#8c8cac"/><rect x="773.15" y="731.1" width="6" height="3.1" fill="#9a9a9a"/><rect x="747.5" y="733.9" width="20.25" height="3.1" fill="#a4a4a4"/><rect x="767.45" y="733.9" width="6" height="3.1" fill="#8c8cac"/><rect x="773.15" y="733.9" width="6" height="3.1" fill="#9a9a9a"/><rect x="747.5" y="736.7" width="3.15" height="3.1" fill="#6a6a6a"/><rect x="750.35" y="736.7" width="14.55" height="3.1" fill="#a4a4a4"/><rect x="764.6" y="736.7" width="3.15" height="3.1" fill="#6a6a6a"/><rect x="767.45" y="736.7" width="3.15" height="3.1" fill="#6e5c5c"/><rect x="770.3" y="736.7" width="3.15" height="3.1" fill="#6a6a6a"/><rect x="773.15" y="736.7" width="6" height="3.1" fill="#9a9a9a"/><rect x="747.5" y="739.5" width="6" height="3.1" fill="#6a6a6a"/><rect x="753.2" y="739.5" width="8.85" height="3.1" fill="#a4a4a4"/><rect x="761.75" y="739.5" width="6" height="3.1" fill="#6a6a6a"/><rect x="767.45" y="739.5" width="3.15" height="3.1" fill="#6e5c5c"/><rect x="770.3" y="739.5" width="3.15" height="3.1" fill="#6a6a6a"/><rect x="773.15" y="739.5" width="6" height="3.1" fill="#9a9a9a"/></g><rect x="740" y="242" width="2.2" height="2.2" fill="#949494"/><rect x="715" y="267" width="2.2" height="2.2" fill="#949494"/><rect x="740" y="267" width="2.2" height="2.2" fill="#949494"/><rect x="712" y="312" width="2.2" height="2.2" fill="#949494"/><rect x="740" y="312" width="2.2" height="2.2" fill="#949494"/><rect x="704" y="323" width="2.2" height="2.2" fill="#949494"/><rect x="712" y="340" width="2.2" height="2.2" fill="#949494"/><rect x="740" y="340" width="2.2" height="2.2" fill="#949494"/><rect x="704" y="351" width="2.2" height="2.2" fill="#949494"/><rect x="712" y="348.6" width="2.2" height="2.2" fill="#949494"/><rect x="740" y="348.6" width="2.2" height="2.2" fill="#949494"/><rect x="678" y="377" width="2.2" height="2.2" fill="#949494"/><rect x="704" y="377" width="2.2" height="2.2" fill="#949494"/><rect x="712" y="377" width="2.2" height="2.2" fill="#949494"/><rect x="740" y="377" width="2.2" height="2.2" fill="#949494"/><rect x="631.5" y="533" width="2.2" height="2.2" fill="#949494"/><rect x="631.5" y="558.5" width="2.2" height="2.2" fill="#949494"/><rect x="603" y="558.5" width="2.2" height="2.2" fill="#949494"/><rect x="603" y="602" width="2.2" height="2.2" fill="#949494"/><rect x="631.5" y="602" width="2.2" height="2.2" fill="#949494"/><rect x="603" y="630.5" width="2.2" height="2.2" fill="#949494"/><rect x="603" y="639.5" width="2.2" height="2.2" fill="#949494"/><rect x="603" y="666.5" width="2.2" height="2.2" fill="#949494"/><rect x="631.5" y="666.5" width="2.2" height="2.2" fill="#949494"/><rect x="614.3" y="675" width="2.2" height="2.2" fill="#949494"/><rect x="642.6" y="675" width="2.2" height="2.2" fill="#949494"/><rect x="666.8" y="675" width="2.2" height="2.2" fill="#949494"/><rect x="666.8" y="700.8" width="2.2" height="2.2" fill="#949494"/><rect x="785" y="712" width="2.2" height="2.2" fill="#949494"/><rect x="785" y="740" width="2.2" height="2.2" fill="#949494"/><rect x="740" y="213" width="2.2" height="2.2" fill="#949494"/><rect x="670.2" y="425" width="2.2" height="3.2" fill="#e2dea0"/><rect x="668.66" y="428" width="2.2" height="3.2" fill="#e2dea0"/><rect x="667.11" y="431" width="2.2" height="3.2" fill="#e2dea0"/><rect x="665.57" y="434" width="2.2" height="3.2" fill="#e2dea0"/><rect x="664.03" y="437" width="2.2" height="3.2" fill="#e2dea0"/><rect x="662.48" y="440" width="2.2" height="3.2" fill="#e2dea0"/><rect x="660.94" y="443" width="2.2" height="3.2" fill="#e2dea0"/><rect x="659.4" y="446" width="2.2" height="3.2" fill="#e2dea0"/><rect x="657.86" y="449" width="2.2" height="3.2" fill="#e2dea0"/><rect x="656.31" y="452" width="2.2" height="3.2" fill="#e2dea0"/><rect x="654.77" y="455" width="2.2" height="3.2" fill="#e2dea0"/><rect x="653.23" y="458" width="2.2" height="3.2" fill="#e2dea0"/><rect x="651.68" y="461" width="2.2" height="3.2" fill="#e2dea0"/><rect x="650.14" y="464" width="2.2" height="3.2" fill="#e2dea0"/><rect x="648.6" y="467" width="2.2" height="3.2" fill="#e2dea0"/><rect x="647.05" y="470" width="2.2" height="3.2" fill="#e2dea0"/><rect x="645.51" y="473" width="2.2" height="3.2" fill="#e2dea0"/><rect x="643.97" y="476" width="2.2" height="3.2" fill="#e2dea0"/><rect x="642.43" y="479" width="2.2" height="3.2" fill="#e2dea0"/><rect x="640.88" y="482" width="2.2" height="3.2" fill="#e2dea0"/><rect x="639.34" y="485" width="2.2" height="3.2" fill="#e2dea0"/><rect x="686.9" y="713.5" width="3.2" height="2.2" fill="#e2dea0"/><rect x="689.9" y="715.05" width="3.2" height="2.2" fill="#e2dea0"/><rect x="692.9" y="716.61" width="3.2" height="2.2" fill="#e2dea0"/><rect x="695.9" y="718.16" width="3.2" height="2.2" fill="#e2dea0"/><rect x="698.9" y="719.72" width="3.2" height="2.2" fill="#e2dea0"/><rect x="701.9" y="721.27" width="3.2" height="2.2" fill="#e2dea0"/><rect x="704.9" y="722.83" width="3.2" height="2.2" fill="#e2dea0"/><rect x="707.9" y="724.38" width="3.2" height="2.2" fill="#e2dea0"/><rect x="710.9" y="725.94" width="3.2" height="2.2" fill="#e2dea0"/><rect x="713.9" y="727.5" width="3.2" height="2.2" fill="#e2dea0"/><rect x="716.9" y="729.05" width="3.2" height="2.2" fill="#e2dea0"/><rect x="719.9" y="730.61" width="3.2" height="2.2" fill="#e2dea0"/><rect x="722.9" y="732.16" width="3.2" height="2.2" fill="#e2dea0"/><rect x="725.9" y="733.72" width="3.2" height="2.2" fill="#e2dea0"/><rect x="728.9" y="735.27" width="3.2" height="2.2" fill="#e2dea0"/><rect x="731.9" y="736.83" width="3.2" height="2.2" fill="#e2dea0"/><rect x="734.9" y="738.38" width="3.2" height="2.2" fill="#e2dea0"/><rect x="737.9" y="739.93" width="3.2" height="2.2" fill="#e2dea0"/><g transform="translate(1600 0) scale(-1 1)"><rect x="772.5" y="150" width="3" height="32" fill="#bcc0cc"/><rect x="765.5" y="178" width="10" height="4" fill="#bcc0cc"/><rect x="764.6" y="144" width="3.9" height="5.4" fill="#e4d4d4"/><rect x="768.5" y="144" width="4" height="5.4" fill="#9a2a2a"/><rect x="765.5" y="149.4" width="7" height="28.6" fill="#8a8a8a"/><rect x="765.5" y="149.4" width="7" height="3.6" fill="#6a6a6a"/><rect x="750" y="203" width="50" height="31" fill="#bec2d0"/><rect x="747.4" y="206" width="4.6" height="24" fill="#bec2d0"/><rect x="779.4" y="203" width="4.8" height="9" fill="#a6a6a6"/><rect x="778" y="227" width="14" height="9" fill="#a8a8a8"/><rect x="755" y="234" width="23" height="3" fill="#bec2d0"/><rect x="753" y="205.2" width="20.3" height="26.2" fill="#fbfbf2"/><rect x="755.7" y="208" width="15.3" height="20.6" fill="#e2cc7c"/><rect x="755.7" y="208" width="5.9" height="20.6" fill="#f2eeb4"/><rect x="761.6" y="208.8" width="9.4" height="2.4" fill="#4a3418"/><rect x="761.6" y="214.1" width="9.4" height="2.4" fill="#4a3418"/><rect x="761.6" y="220" width="9.4" height="2.4" fill="#4a3418"/><rect x="761.6" y="225.4" width="9.4" height="2.4" fill="#4a3418"/><rect x="709.3" y="280.8" width="14.5" height="20" fill="#cdd1dd"/><rect x="709.3" y="284.6" width="14" height="2.4" fill="#5e5e72"/><rect x="709.3" y="284.6" width="3.5" height="2.4" fill="#7a3448"/><rect x="709.3" y="287" width="3.5" height="1.6" fill="#e8b8c0"/><rect x="709.3" y="290.2" width="14" height="2.4" fill="#5e5e72"/><rect x="709.3" y="290.2" width="3.5" height="2.4" fill="#7a3448"/><rect x="709.3" y="292.6" width="3.5" height="1.6" fill="#e8b8c0"/><rect x="709.3" y="295.8" width="14" height="2.4" fill="#5e5e72"/><rect x="709.3" y="295.8" width="3.5" height="2.4" fill="#7a3448"/><rect x="709.3" y="298.2" width="3.5" height="1.6" fill="#e8b8c0"/><rect x="672.4" y="389.3" width="14.5" height="20" fill="#cdd1dd"/><rect x="672.4" y="393.1" width="14" height="2.4" fill="#5e5e72"/><rect x="672.4" y="393.1" width="3.5" height="2.4" fill="#7a3448"/><rect x="672.4" y="395.5" width="3.5" height="1.6" fill="#e8b8c0"/><rect x="672.4" y="398.7" width="14" height="2.4" fill="#5e5e72"/><rect x="672.4" y="398.7" width="3.5" height="2.4" fill="#7a3448"/><rect x="672.4" y="401.1" width="3.5" height="1.6" fill="#e8b8c0"/><rect x="672.4" y="404.3" width="14" height="2.4" fill="#5e5e72"/><rect x="672.4" y="404.3" width="3.5" height="2.4" fill="#7a3448"/><rect x="672.4" y="406.7" width="3.5" height="1.6" fill="#e8b8c0"/><rect x="600.3" y="571" width="14.5" height="20" fill="#cdd1dd"/><rect x="600.3" y="574.8" width="14" height="2.4" fill="#5e5e72"/><rect x="600.3" y="574.8" width="3.5" height="2.4" fill="#7a3448"/><rect x="600.3" y="577.2" width="3.5" height="1.6" fill="#e8b8c0"/><rect x="600.3" y="580.4" width="14" height="2.4" fill="#5e5e72"/><rect x="600.3" y="580.4" width="3.5" height="2.4" fill="#7a3448"/><rect x="600.3" y="582.8" width="3.5" height="1.6" fill="#e8b8c0"/><rect x="600.3" y="586" width="14" height="2.4" fill="#5e5e72"/><rect x="600.3" y="586" width="3.5" height="2.4" fill="#7a3448"/><rect x="600.3" y="588.4" width="3.5" height="1.6" fill="#e8b8c0"/><g shape-rendering="crispEdges"><rect x="712" y="384.3" width="5.8" height="3.1" fill="#6a6a6a"/><rect x="717.5" y="384.3" width="8.55" height="3.1" fill="#a4a4a4"/><rect x="725.75" y="384.3" width="5.8" height="3.1" fill="#6a6a6a"/><rect x="731.25" y="384.3" width="3.05" height="3.1" fill="#6e5c5c"/><rect x="734" y="384.3" width="3.05" height="3.1" fill="#6a6a6a"/><rect x="736.75" y="384.3" width="5.8" height="3.1" fill="#9a9a9a"/><rect x="712" y="387.1" width="3.05" height="3.1" fill="#6a6a6a"/><rect x="714.75" y="387.1" width="14.05" height="3.1" fill="#a4a4a4"/><rect x="728.5" y="387.1" width="3.05" height="3.1" fill="#6a6a6a"/><rect x="731.25" y="387.1" width="3.05" height="3.1" fill="#6e5c5c"/><rect x="734" y="387.1" width="3.05" height="3.1" fill="#6a6a6a"/><rect x="736.75" y="387.1" width="5.8" height="3.1" fill="#9a9a9a"/><rect x="712" y="389.9" width="19.55" height="3.1" fill="#a4a4a4"/><rect x="731.25" y="389.9" width="5.8" height="3.1" fill="#8c8cac"/><rect x="736.75" y="389.9" width="5.8" height="3.1" fill="#9a9a9a"/><rect x="712" y="392.7" width="8.55" height="3.1" fill="#a4a4a4"/><rect x="720.25" y="392.7" width="3.05" height="3.1" fill="#8c8cac"/><rect x="723" y="392.7" width="8.55" height="3.1" fill="#a4a4a4"/><rect x="731.25" y="392.7" width="5.8" height="3.1" fill="#8c8cac"/><rect x="736.75" y="392.7" width="5.8" height="3.1" fill="#9a9a9a"/><rect x="712" y="395.5" width="19.55" height="3.1" fill="#a4a4a4"/><rect x="731.25" y="395.5" width="5.8" height="3.1" fill="#8c8cac"/><rect x="736.75" y="395.5" width="5.8" height="3.1" fill="#9a9a9a"/><rect x="712" y="398.3" width="3.05" height="3.1" fill="#6a6a6a"/><rect x="714.75" y="398.3" width="14.05" height="3.1" fill="#a4a4a4"/><rect x="728.5" y="398.3" width="3.05" height="3.1" fill="#6a6a6a"/><rect x="731.25" y="398.3" width="3.05" height="3.1" fill="#6e5c5c"/><rect x="734" y="398.3" width="3.05" height="3.1" fill="#6a6a6a"/><rect x="736.75" y="398.3" width="5.8" height="3.1" fill="#9a9a9a"/><rect x="712" y="401.1" width="5.8" height="3.1" fill="#6a6a6a"/><rect x="717.5" y="401.1" width="8.55" height="3.1" fill="#a4a4a4"/><rect x="725.75" y="401.1" width="5.8" height="3.1" fill="#6a6a6a"/><rect x="731.25" y="401.1" width="3.05" height="3.1" fill="#6e5c5c"/><rect x="734" y="401.1" width="3.05" height="3.1" fill="#6a6a6a"/><rect x="736.75" y="401.1" width="5.8" height="3.1" fill="#9a9a9a"/><rect x="712" y="403.9" width="5.8" height="3.1" fill="#6a6a6a"/><rect x="717.5" y="403.9" width="8.55" height="3.1" fill="#8c8cac"/><rect x="725.75" y="403.9" width="8.55" height="3.1" fill="#6e5c5c"/><rect x="734" y="403.9" width="8.55" height="3.1" fill="#6a6a6a"/><rect x="712" y="406.7" width="5.8" height="3.1" fill="#6a6a6a"/><rect x="717.5" y="406.7" width="8.55" height="3.1" fill="#8c8cac"/><rect x="725.75" y="406.7" width="5.8" height="3.1" fill="#6a6a6a"/><rect x="731.25" y="406.7" width="3.05" height="3.1" fill="#6e5c5c"/><rect x="734" y="406.7" width="8.55" height="3.1" fill="#6a6a6a"/><rect x="712" y="409.5" width="19.55" height="3.1" fill="#a8a8a8"/><rect x="731.25" y="409.5" width="11.3" height="3.1" fill="#6e5c5c"/><rect x="712" y="412.3" width="19.55" height="3.1" fill="#a8a8a8"/><rect x="731.25" y="412.3" width="11.3" height="3.1" fill="#6a6a6a"/></g><g shape-rendering="crispEdges"><rect x="712" y="420.6" width="5.8" height="3.1" fill="#6a6a6a"/><rect x="717.5" y="420.6" width="8.55" height="3.1" fill="#a4a4a4"/><rect x="725.75" y="420.6" width="5.8" height="3.1" fill="#6a6a6a"/><rect x="731.25" y="420.6" width="3.05" height="3.1" fill="#6e5c5c"/><rect x="734" y="420.6" width="3.05" height="3.1" fill="#6a6a6a"/><rect x="736.75" y="420.6" width="5.8" height="3.1" fill="#9a9a9a"/><rect x="712" y="423.4" width="3.05" height="3.1" fill="#6a6a6a"/><rect x="714.75" y="423.4" width="14.05" height="3.1" fill="#a4a4a4"/><rect x="728.5" y="423.4" width="3.05" height="3.1" fill="#6a6a6a"/><rect x="731.25" y="423.4" width="3.05" height="3.1" fill="#6e5c5c"/><rect x="734" y="423.4" width="3.05" height="3.1" fill="#6a6a6a"/><rect x="736.75" y="423.4" width="5.8" height="3.1" fill="#9a9a9a"/><rect x="712" y="426.2" width="19.55" height="3.1" fill="#a4a4a4"/><rect x="731.25" y="426.2" width="5.8" height="3.1" fill="#8c8cac"/><rect x="736.75" y="426.2" width="5.8" height="3.1" fill="#9a9a9a"/><rect x="712" y="429" width="8.55" height="3.1" fill="#a4a4a4"/><rect x="720.25" y="429" width="3.05" height="3.1" fill="#8c8cac"/><rect x="723" y="429" width="8.55" height="3.1" fill="#a4a4a4"/><rect x="731.25" y="429" width="5.8" height="3.1" fill="#8c8cac"/><rect x="736.75" y="429" width="5.8" height="3.1" fill="#9a9a9a"/><rect x="712" y="431.8" width="19.55" height="3.1" fill="#a4a4a4"/><rect x="731.25" y="431.8" width="5.8" height="3.1" fill="#8c8cac"/><rect x="736.75" y="431.8" width="5.8" height="3.1" fill="#9a9a9a"/><rect x="712" y="434.6" width="3.05" height="3.1" fill="#6a6a6a"/><rect x="714.75" y="434.6" width="14.05" height="3.1" fill="#a4a4a4"/><rect x="728.5" y="434.6" width="3.05" height="3.1" fill="#6a6a6a"/><rect x="731.25" y="434.6" width="3.05" height="3.1" fill="#6e5c5c"/><rect x="734" y="434.6" width="3.05" height="3.1" fill="#6a6a6a"/><rect x="736.75" y="434.6" width="5.8" height="3.1" fill="#9a9a9a"/><rect x="712" y="437.4" width="5.8" height="3.1" fill="#6a6a6a"/><rect x="717.5" y="437.4" width="8.55" height="3.1" fill="#a4a4a4"/><rect x="725.75" y="437.4" width="5.8" height="3.1" fill="#6a6a6a"/><rect x="731.25" y="437.4" width="3.05" height="3.1" fill="#6e5c5c"/><rect x="734" y="437.4" width="3.05" height="3.1" fill="#6a6a6a"/><rect x="736.75" y="437.4" width="5.8" height="3.1" fill="#9a9a9a"/><rect x="712" y="440.2" width="5.8" height="3.1" fill="#6a6a6a"/><rect x="717.5" y="440.2" width="8.55" height="3.1" fill="#8c8cac"/><rect x="725.75" y="440.2" width="8.55" height="3.1" fill="#6e5c5c"/><rect x="734" y="440.2" width="8.55" height="3.1" fill="#6a6a6a"/><rect x="712" y="443" width="5.8" height="3.1" fill="#6a6a6a"/><rect x="717.5" y="443" width="8.55" height="3.1" fill="#8c8cac"/><rect x="725.75" y="443" width="5.8" height="3.1" fill="#6a6a6a"/><rect x="731.25" y="443" width="3.05" height="3.1" fill="#6e5c5c"/><rect x="734" y="443" width="8.55" height="3.1" fill="#6a6a6a"/><rect x="712" y="445.8" width="19.55" height="3.1" fill="#a8a8a8"/><rect x="731.25" y="445.8" width="11.3" height="3.1" fill="#6e5c5c"/><rect x="712" y="448.6" width="19.55" height="3.1" fill="#a8a8a8"/><rect x="731.25" y="448.6" width="11.3" height="3.1" fill="#6a6a6a"/></g><g shape-rendering="crispEdges"><rect x="712" y="457.7" width="5.8" height="3.1" fill="#6a6a6a"/><rect x="717.5" y="457.7" width="8.55" height="3.1" fill="#a4a4a4"/><rect x="725.75" y="457.7" width="5.8" height="3.1" fill="#6a6a6a"/><rect x="731.25" y="457.7" width="3.05" height="3.1" fill="#6e5c5c"/><rect x="734" y="457.7" width="3.05" height="3.1" fill="#6a6a6a"/><rect x="736.75" y="457.7" width="5.8" height="3.1" fill="#9a9a9a"/><rect x="712" y="460.5" width="3.05" height="3.1" fill="#6a6a6a"/><rect x="714.75" y="460.5" width="14.05" height="3.1" fill="#a4a4a4"/><rect x="728.5" y="460.5" width="3.05" height="3.1" fill="#6a6a6a"/><rect x="731.25" y="460.5" width="3.05" height="3.1" fill="#6e5c5c"/><rect x="734" y="460.5" width="3.05" height="3.1" fill="#6a6a6a"/><rect x="736.75" y="460.5" width="5.8" height="3.1" fill="#9a9a9a"/><rect x="712" y="463.3" width="19.55" height="3.1" fill="#a4a4a4"/><rect x="731.25" y="463.3" width="5.8" height="3.1" fill="#8c8cac"/><rect x="736.75" y="463.3" width="5.8" height="3.1" fill="#9a9a9a"/><rect x="712" y="466.1" width="8.55" height="3.1" fill="#a4a4a4"/><rect x="720.25" y="466.1" width="3.05" height="3.1" fill="#8c8cac"/><rect x="723" y="466.1" width="8.55" height="3.1" fill="#a4a4a4"/><rect x="731.25" y="466.1" width="5.8" height="3.1" fill="#8c8cac"/><rect x="736.75" y="466.1" width="5.8" height="3.1" fill="#9a9a9a"/><rect x="712" y="468.9" width="19.55" height="3.1" fill="#a4a4a4"/><rect x="731.25" y="468.9" width="5.8" height="3.1" fill="#8c8cac"/><rect x="736.75" y="468.9" width="5.8" height="3.1" fill="#9a9a9a"/><rect x="712" y="471.7" width="3.05" height="3.1" fill="#6a6a6a"/><rect x="714.75" y="471.7" width="14.05" height="3.1" fill="#a4a4a4"/><rect x="728.5" y="471.7" width="3.05" height="3.1" fill="#6a6a6a"/><rect x="731.25" y="471.7" width="3.05" height="3.1" fill="#6e5c5c"/><rect x="734" y="471.7" width="3.05" height="3.1" fill="#6a6a6a"/><rect x="736.75" y="471.7" width="5.8" height="3.1" fill="#9a9a9a"/><rect x="712" y="474.5" width="5.8" height="3.1" fill="#6a6a6a"/><rect x="717.5" y="474.5" width="8.55" height="3.1" fill="#a4a4a4"/><rect x="725.75" y="474.5" width="5.8" height="3.1" fill="#6a6a6a"/><rect x="731.25" y="474.5" width="3.05" height="3.1" fill="#6e5c5c"/><rect x="734" y="474.5" width="3.05" height="3.1" fill="#6a6a6a"/><rect x="736.75" y="474.5" width="5.8" height="3.1" fill="#9a9a9a"/><rect x="712" y="477.3" width="5.8" height="3.1" fill="#6a6a6a"/><rect x="717.5" y="477.3" width="8.55" height="3.1" fill="#8c8cac"/><rect x="725.75" y="477.3" width="8.55" height="3.1" fill="#6e5c5c"/><rect x="734" y="477.3" width="8.55" height="3.1" fill="#6a6a6a"/><rect x="712" y="480.1" width="5.8" height="3.1" fill="#6a6a6a"/><rect x="717.5" y="480.1" width="8.55" height="3.1" fill="#8c8cac"/><rect x="725.75" y="480.1" width="5.8" height="3.1" fill="#6a6a6a"/><rect x="731.25" y="480.1" width="3.05" height="3.1" fill="#6e5c5c"/><rect x="734" y="480.1" width="8.55" height="3.1" fill="#6a6a6a"/><rect x="712" y="482.9" width="19.55" height="3.1" fill="#a8a8a8"/><rect x="731.25" y="482.9" width="11.3" height="3.1" fill="#6e5c5c"/><rect x="712" y="485.7" width="19.55" height="3.1" fill="#a8a8a8"/><rect x="731.25" y="485.7" width="11.3" height="3.1" fill="#6a6a6a"/></g><g shape-rendering="crispEdges"><rect x="747.7" y="457.7" width="5.8" height="3.1" fill="#6a6a6a"/><rect x="753.2" y="457.7" width="8.55" height="3.1" fill="#a4a4a4"/><rect x="761.45" y="457.7" width="5.8" height="3.1" fill="#6a6a6a"/><rect x="766.95" y="457.7" width="3.05" height="3.1" fill="#6e5c5c"/><rect x="769.7" y="457.7" width="3.05" height="3.1" fill="#6a6a6a"/><rect x="772.45" y="457.7" width="5.8" height="3.1" fill="#9a9a9a"/><rect x="747.7" y="460.5" width="3.05" height="3.1" fill="#6a6a6a"/><rect x="750.45" y="460.5" width="14.05" height="3.1" fill="#a4a4a4"/><rect x="764.2" y="460.5" width="3.05" height="3.1" fill="#6a6a6a"/><rect x="766.95" y="460.5" width="3.05" height="3.1" fill="#6e5c5c"/><rect x="769.7" y="460.5" width="3.05" height="3.1" fill="#6a6a6a"/><rect x="772.45" y="460.5" width="5.8" height="3.1" fill="#9a9a9a"/><rect x="747.7" y="463.3" width="19.55" height="3.1" fill="#a4a4a4"/><rect x="766.95" y="463.3" width="5.8" height="3.1" fill="#8c8cac"/><rect x="772.45" y="463.3" width="5.8" height="3.1" fill="#9a9a9a"/><rect x="747.7" y="466.1" width="8.55" height="3.1" fill="#a4a4a4"/><rect x="755.95" y="466.1" width="3.05" height="3.1" fill="#8c8cac"/><rect x="758.7" y="466.1" width="8.55" height="3.1" fill="#a4a4a4"/><rect x="766.95" y="466.1" width="5.8" height="3.1" fill="#8c8cac"/><rect x="772.45" y="466.1" width="5.8" height="3.1" fill="#9a9a9a"/><rect x="747.7" y="468.9" width="19.55" height="3.1" fill="#a4a4a4"/><rect x="766.95" y="468.9" width="5.8" height="3.1" fill="#8c8cac"/><rect x="772.45" y="468.9" width="5.8" height="3.1" fill="#9a9a9a"/><rect x="747.7" y="471.7" width="3.05" height="3.1" fill="#6a6a6a"/><rect x="750.45" y="471.7" width="14.05" height="3.1" fill="#a4a4a4"/><rect x="764.2" y="471.7" width="3.05" height="3.1" fill="#6a6a6a"/><rect x="766.95" y="471.7" width="3.05" height="3.1" fill="#6e5c5c"/><rect x="769.7" y="471.7" width="3.05" height="3.1" fill="#6a6a6a"/><rect x="772.45" y="471.7" width="5.8" height="3.1" fill="#9a9a9a"/><rect x="747.7" y="474.5" width="5.8" height="3.1" fill="#6a6a6a"/><rect x="753.2" y="474.5" width="8.55" height="3.1" fill="#a4a4a4"/><rect x="761.45" y="474.5" width="5.8" height="3.1" fill="#6a6a6a"/><rect x="766.95" y="474.5" width="3.05" height="3.1" fill="#6e5c5c"/><rect x="769.7" y="474.5" width="3.05" height="3.1" fill="#6a6a6a"/><rect x="772.45" y="474.5" width="5.8" height="3.1" fill="#9a9a9a"/><rect x="747.7" y="477.3" width="5.8" height="3.1" fill="#6a6a6a"/><rect x="753.2" y="477.3" width="8.55" height="3.1" fill="#8c8cac"/><rect x="761.45" y="477.3" width="8.55" height="3.1" fill="#6e5c5c"/><rect x="769.7" y="477.3" width="8.55" height="3.1" fill="#6a6a6a"/><rect x="747.7" y="480.1" width="5.8" height="3.1" fill="#6a6a6a"/><rect x="753.2" y="480.1" width="8.55" height="3.1" fill="#8c8cac"/><rect x="761.45" y="480.1" width="5.8" height="3.1" fill="#6a6a6a"/><rect x="766.95" y="480.1" width="3.05" height="3.1" fill="#6e5c5c"/><rect x="769.7" y="480.1" width="8.55" height="3.1" fill="#6a6a6a"/><rect x="747.7" y="482.9" width="19.55" height="3.1" fill="#a8a8a8"/><rect x="766.95" y="482.9" width="11.3" height="3.1" fill="#6e5c5c"/><rect x="747.7" y="485.7" width="19.55" height="3.1" fill="#a8a8a8"/><rect x="766.95" y="485.7" width="11.3" height="3.1" fill="#6a6a6a"/></g><rect x="672.4" y="425.4" width="28.5" height="21" fill="#c6c6c6"/><rect x="690" y="429.4" width="10.9" height="13" fill="#bababa"/><rect x="672.4" y="423.4" width="23.1" height="3" fill="#7a7676"/><rect x="672.4" y="445.4" width="23.1" height="3" fill="#7a7676"/><rect x="695.5" y="426.4" width="5.4" height="2.8" fill="#7a7676"/><rect x="695.5" y="442.8" width="5.4" height="2.6" fill="#7a7676"/><rect x="700.9" y="429.2" width="2.2" height="13.6" fill="#7a7676"/><rect x="672.4" y="427" width="5.6" height="18" fill="#3ad6dc"/><rect x="678" y="431.4" width="9" height="9.6" fill="#3e4242"/><rect x="672.4" y="462.3" width="28.5" height="21" fill="#c6c6c6"/><rect x="690" y="466.3" width="10.9" height="13" fill="#bababa"/><rect x="672.4" y="460.3" width="23.1" height="3" fill="#7a7676"/><rect x="672.4" y="482.3" width="23.1" height="3" fill="#7a7676"/><rect x="695.5" y="463.3" width="5.4" height="2.8" fill="#7a7676"/><rect x="695.5" y="479.7" width="5.4" height="2.6" fill="#7a7676"/><rect x="700.9" y="466.1" width="2.2" height="13.6" fill="#7a7676"/><rect x="672.4" y="463.9" width="5.6" height="18" fill="#3ad6dc"/><rect x="678" y="468.3" width="9" height="9.6" fill="#3e4242"/><rect x="640" y="490.5" width="28.5" height="100.5" fill="#7e7e88"/><rect x="641.5" y="492" width="25.5" height="97.5" fill="#c6cad6"/><rect x="644" y="494.5" width="20.5" height="92.5" fill="#575757"/><rect x="646" y="496.5" width="16.5" height="6" fill="#3ad6dc"/><rect x="644" y="520" width="4" height="6" fill="#c6cad6"/><rect x="660.5" y="520" width="4" height="6" fill="#c6cad6"/><rect x="646.5" y="523" width="2.5" height="7" fill="#c6cad6"/><rect x="659.5" y="523" width="2.5" height="7" fill="#c6cad6"/><rect x="652.5" y="527" width="3.5" height="6" fill="#3ad6dc"/><rect x="645.5" y="553.5" width="16" height="13.5" fill="#a6a6a6"/><rect x="644" y="551.5" width="20.5" height="2" fill="#c6cad6"/><rect x="644" y="568" width="20.5" height="21" fill="#ffffff"/><rect x="638.8" y="601.5" width="30.8" height="67.5" rx="3" fill="#c4c8d4"/><rect x="642.3" y="605.2" width="24.4" height="60.1" rx="3" fill="#fff"/><rect x="653" y="600.8" width="2.5" height="6.2" fill="#5a5a5a"/><rect x="653" y="663.5" width="2.5" height="6.5" fill="#5a5a5a"/><rect x="637.3" y="616" width="5.9" height="2.5" fill="#5a5a5a"/><rect x="665.2" y="616" width="5.8" height="2.5" fill="#5a5a5a"/><rect x="637.3" y="652.5" width="5.9" height="2.5" fill="#5a5a5a"/><rect x="665.2" y="652.5" width="5.8" height="2.5" fill="#5a5a5a"/><rect x="677" y="609" width="26.5" height="100" fill="#7e7e88"/><rect x="678.5" y="610.5" width="23.5" height="97" fill="#c6cad6"/><rect x="681" y="613" width="18.5" height="92" fill="#575757"/><rect x="681" y="611" width="18.5" height="20" fill="#ffffff"/><rect x="681" y="631" width="18.5" height="2" fill="#c6cad6"/><rect x="682" y="633" width="14.5" height="12" fill="#a8a8a8"/><rect x="681" y="664" width="4" height="6" fill="#c6cad6"/><rect x="695.5" y="664" width="4" height="6" fill="#c6cad6"/><rect x="683.5" y="667" width="2.5" height="7" fill="#c6cad6"/><rect x="694.5" y="667" width="2.5" height="7" fill="#c6cad6"/><rect x="677" y="664" width="1.5" height="5" fill="#5a5a5a"/><rect x="702" y="664" width="1.5" height="5" fill="#5a5a5a"/><rect x="688.5" y="666" width="3.5" height="6" fill="#3ad6dc"/><rect x="681" y="695" width="18.5" height="2" fill="#c6cad6"/><rect x="682.5" y="697" width="15.5" height="6" fill="#3ad6dc"/><rect x="713.6" y="609" width="26.5" height="100" fill="#7e7e88"/><rect x="715.1" y="610.5" width="23.5" height="97" fill="#c6cad6"/><rect x="717.6" y="613" width="18.5" height="92" fill="#575757"/><rect x="717.6" y="611" width="18.5" height="20" fill="#ffffff"/><rect x="717.6" y="631" width="18.5" height="2" fill="#c6cad6"/><rect x="718.6" y="633" width="14.5" height="12" fill="#a8a8a8"/><rect x="717.6" y="664" width="4" height="6" fill="#c6cad6"/><rect x="732.1" y="664" width="4" height="6" fill="#c6cad6"/><rect x="720.1" y="667" width="2.5" height="7" fill="#c6cad6"/><rect x="731.1" y="667" width="2.5" height="7" fill="#c6cad6"/><rect x="713.6" y="664" width="1.5" height="5" fill="#5a5a5a"/><rect x="738.6" y="664" width="1.5" height="5" fill="#5a5a5a"/><rect x="725.1" y="666" width="3.5" height="6" fill="#3ad6dc"/><rect x="717.6" y="695" width="18.5" height="2" fill="#c6cad6"/><rect x="719.1" y="697" width="15.5" height="6" fill="#3ad6dc"/><g shape-rendering="crispEdges"><rect x="747.5" y="711.5" width="20.25" height="3.1" fill="#a8a8a8"/><rect x="767.45" y="711.5" width="11.7" height="3.1" fill="#6a6a6a"/><rect x="747.5" y="714.3" width="20.25" height="3.1" fill="#a8a8a8"/><rect x="767.45" y="714.3" width="11.7" height="3.1" fill="#6e5c5c"/><rect x="747.5" y="717.1" width="6" height="3.1" fill="#6a6a6a"/><rect x="753.2" y="717.1" width="8.85" height="3.1" fill="#8c8cac"/><rect x="761.75" y="717.1" width="6" height="3.1" fill="#6a6a6a"/><rect x="767.45" y="717.1" width="3.15" height="3.1" fill="#6e5c5c"/><rect x="770.3" y="717.1" width="8.85" height="3.1" fill="#6a6a6a"/><rect x="747.5" y="719.9" width="6" height="3.1" fill="#6a6a6a"/><rect x="753.2" y="719.9" width="8.85" height="3.1" fill="#8c8cac"/><rect x="761.75" y="719.9" width="8.85" height="3.1" fill="#6e5c5c"/><rect x="770.3" y="719.9" width="8.85" height="3.1" fill="#6a6a6a"/><rect x="747.5" y="722.7" width="6" height="3.1" fill="#6a6a6a"/><rect x="753.2" y="722.7" width="8.85" height="3.1" fill="#a4a4a4"/><rect x="761.75" y="722.7" width="6" height="3.1" fill="#6a6a6a"/><rect x="767.45" y="722.7" width="3.15" height="3.1" fill="#6e5c5c"/><rect x="770.3" y="722.7" width="3.15" height="3.1" fill="#6a6a6a"/><rect x="773.15" y="722.7" width="6" height="3.1" fill="#9a9a9a"/><rect x="747.5" y="725.5" width="3.15" height="3.1" fill="#6a6a6a"/><rect x="750.35" y="725.5" width="14.55" height="3.1" fill="#a4a4a4"/><rect x="764.6" y="725.5" width="3.15" height="3.1" fill="#6a6a6a"/><rect x="767.45" y="725.5" width="3.15" height="3.1" fill="#6e5c5c"/><rect x="770.3" y="725.5" width="3.15" height="3.1" fill="#6a6a6a"/><rect x="773.15" y="725.5" width="6" height="3.1" fill="#9a9a9a"/><rect x="747.5" y="728.3" width="20.25" height="3.1" fill="#a4a4a4"/><rect x="767.45" y="728.3" width="6" height="3.1" fill="#8c8cac"/><rect x="773.15" y="728.3" width="6" height="3.1" fill="#9a9a9a"/><rect x="747.5" y="731.1" width="8.85" height="3.1" fill="#a4a4a4"/><rect x="756.05" y="731.1" width="3.15" height="3.1" fill="#8c8cac"/><rect x="758.9" y="731.1" width="8.85" height="3.1" fill="#a4a4a4"/><rect x="767.45" y="731.1" width="6" height="3.1" fill="#8c8cac"/><rect x="773.15" y="731.1" width="6" height="3.1" fill="#9a9a9a"/><rect x="747.5" y="733.9" width="20.25" height="3.1" fill="#a4a4a4"/><rect x="767.45" y="733.9" width="6" height="3.1" fill="#8c8cac"/><rect x="773.15" y="733.9" width="6" height="3.1" fill="#9a9a9a"/><rect x="747.5" y="736.7" width="3.15" height="3.1" fill="#6a6a6a"/><rect x="750.35" y="736.7" width="14.55" height="3.1" fill="#a4a4a4"/><rect x="764.6" y="736.7" width="3.15" height="3.1" fill="#6a6a6a"/><rect x="767.45" y="736.7" width="3.15" height="3.1" fill="#6e5c5c"/><rect x="770.3" y="736.7" width="3.15" height="3.1" fill="#6a6a6a"/><rect x="773.15" y="736.7" width="6" height="3.1" fill="#9a9a9a"/><rect x="747.5" y="739.5" width="6" height="3.1" fill="#6a6a6a"/><rect x="753.2" y="739.5" width="8.85" height="3.1" fill="#a4a4a4"/><rect x="761.75" y="739.5" width="6" height="3.1" fill="#6a6a6a"/><rect x="767.45" y="739.5" width="3.15" height="3.1" fill="#6e5c5c"/><rect x="770.3" y="739.5" width="3.15" height="3.1" fill="#6a6a6a"/><rect x="773.15" y="739.5" width="6" height="3.1" fill="#9a9a9a"/></g><rect x="740" y="242" width="2.2" height="2.2" fill="#949494"/><rect x="715" y="267" width="2.2" height="2.2" fill="#949494"/><rect x="740" y="267" width="2.2" height="2.2" fill="#949494"/><rect x="712" y="312" width="2.2" height="2.2" fill="#949494"/><rect x="740" y="312" width="2.2" height="2.2" fill="#949494"/><rect x="704" y="323" width="2.2" height="2.2" fill="#949494"/><rect x="712" y="340" width="2.2" height="2.2" fill="#949494"/><rect x="740" y="340" width="2.2" height="2.2" fill="#949494"/><rect x="704" y="351" width="2.2" height="2.2" fill="#949494"/><rect x="712" y="348.6" width="2.2" height="2.2" fill="#949494"/><rect x="740" y="348.6" width="2.2" height="2.2" fill="#949494"/><rect x="678" y="377" width="2.2" height="2.2" fill="#949494"/><rect x="704" y="377" width="2.2" height="2.2" fill="#949494"/><rect x="712" y="377" width="2.2" height="2.2" fill="#949494"/><rect x="740" y="377" width="2.2" height="2.2" fill="#949494"/><rect x="631.5" y="533" width="2.2" height="2.2" fill="#949494"/><rect x="631.5" y="558.5" width="2.2" height="2.2" fill="#949494"/><rect x="603" y="558.5" width="2.2" height="2.2" fill="#949494"/><rect x="603" y="602" width="2.2" height="2.2" fill="#949494"/><rect x="631.5" y="602" width="2.2" height="2.2" fill="#949494"/><rect x="603" y="630.5" width="2.2" height="2.2" fill="#949494"/><rect x="603" y="639.5" width="2.2" height="2.2" fill="#949494"/><rect x="603" y="666.5" width="2.2" height="2.2" fill="#949494"/><rect x="631.5" y="666.5" width="2.2" height="2.2" fill="#949494"/><rect x="614.3" y="675" width="2.2" height="2.2" fill="#949494"/><rect x="642.6" y="675" width="2.2" height="2.2" fill="#949494"/><rect x="666.8" y="675" width="2.2" height="2.2" fill="#949494"/><rect x="666.8" y="700.8" width="2.2" height="2.2" fill="#949494"/><rect x="785" y="712" width="2.2" height="2.2" fill="#949494"/><rect x="785" y="740" width="2.2" height="2.2" fill="#949494"/><rect x="740" y="213" width="2.2" height="2.2" fill="#949494"/><rect x="670.2" y="425" width="2.2" height="3.2" fill="#e2dea0"/><rect x="668.66" y="428" width="2.2" height="3.2" fill="#e2dea0"/><rect x="667.11" y="431" width="2.2" height="3.2" fill="#e2dea0"/><rect x="665.57" y="434" width="2.2" height="3.2" fill="#e2dea0"/><rect x="664.03" y="437" width="2.2" height="3.2" fill="#e2dea0"/><rect x="662.48" y="440" width="2.2" height="3.2" fill="#e2dea0"/><rect x="660.94" y="443" width="2.2" height="3.2" fill="#e2dea0"/><rect x="659.4" y="446" width="2.2" height="3.2" fill="#e2dea0"/><rect x="657.86" y="449" width="2.2" height="3.2" fill="#e2dea0"/><rect x="656.31" y="452" width="2.2" height="3.2" fill="#e2dea0"/><rect x="654.77" y="455" width="2.2" height="3.2" fill="#e2dea0"/><rect x="653.23" y="458" width="2.2" height="3.2" fill="#e2dea0"/><rect x="651.68" y="461" width="2.2" height="3.2" fill="#e2dea0"/><rect x="650.14" y="464" width="2.2" height="3.2" fill="#e2dea0"/><rect x="648.6" y="467" width="2.2" height="3.2" fill="#e2dea0"/><rect x="647.05" y="470" width="2.2" height="3.2" fill="#e2dea0"/><rect x="645.51" y="473" width="2.2" height="3.2" fill="#e2dea0"/><rect x="643.97" y="476" width="2.2" height="3.2" fill="#e2dea0"/><rect x="642.43" y="479" width="2.2" height="3.2" fill="#e2dea0"/><rect x="640.88" y="482" width="2.2" height="3.2" fill="#e2dea0"/><rect x="639.34" y="485" width="2.2" height="3.2" fill="#e2dea0"/><rect x="686.9" y="713.5" width="3.2" height="2.2" fill="#e2dea0"/><rect x="689.9" y="715.05" width="3.2" height="2.2" fill="#e2dea0"/><rect x="692.9" y="716.61" width="3.2" height="2.2" fill="#e2dea0"/><rect x="695.9" y="718.16" width="3.2" height="2.2" fill="#e2dea0"/><rect x="698.9" y="719.72" width="3.2" height="2.2" fill="#e2dea0"/><rect x="701.9" y="721.27" width="3.2" height="2.2" fill="#e2dea0"/><rect x="704.9" y="722.83" width="3.2" height="2.2" fill="#e2dea0"/><rect x="707.9" y="724.38" width="3.2" height="2.2" fill="#e2dea0"/><rect x="710.9" y="725.94" width="3.2" height="2.2" fill="#e2dea0"/><rect x="713.9" y="727.5" width="3.2" height="2.2" fill="#e2dea0"/><rect x="716.9" y="729.05" width="3.2" height="2.2" fill="#e2dea0"/><rect x="719.9" y="730.61" width="3.2" height="2.2" fill="#e2dea0"/><rect x="722.9" y="732.16" width="3.2" height="2.2" fill="#e2dea0"/><rect x="725.9" y="733.72" width="3.2" height="2.2" fill="#e2dea0"/><rect x="728.9" y="735.27" width="3.2" height="2.2" fill="#e2dea0"/><rect x="731.9" y="736.83" width="3.2" height="2.2" fill="#e2dea0"/><rect x="734.9" y="738.38" width="3.2" height="2.2" fill="#e2dea0"/><rect x="737.9" y="739.93" width="3.2" height="2.2" fill="#e2dea0"/></g><rect x="793.4" y="113" width="13.2" height="28" fill="#bcc0cc"/><rect x="795.3" y="101.6" width="3.7" height="6.4" fill="#e4d4d4"/><rect x="801" y="101.6" width="3.7" height="6.4" fill="#e4d4d4"/><rect x="799" y="101.6" width="2" height="6.4" fill="#7a3030"/><rect x="796" y="108" width="8" height="30" fill="#8a8a8a"/><rect x="796" y="108" width="8" height="4" fill="#6a6a6a"/><rect x="792.5" y="164.3" width="15.5" height="5.7" fill="#bec2d0"/><rect x="784.2" y="170" width="32.1" height="33" fill="#bec2d0"/><rect x="792" y="234" width="16" height="4" fill="#bec2d0"/><rect x="789" y="525" width="22" height="10" fill="#bfc3d0"/><rect x="783" y="532" width="34" height="40" fill="#bfc3d0"/><rect x="780.5" y="570" width="38.5" height="19" fill="#bfc3d0"/><rect x="785" y="589" width="30" height="8" fill="#bfc3d0"/><rect x="791" y="597" width="18" height="5" fill="#bfc3d0"/><rect x="789.7" y="172" width="20.3" height="28" fill="#fbfbf2"/><rect x="792.4" y="175" width="14.9" height="22" fill="#e2cc7c"/><rect x="792.4" y="175" width="14.9" height="5" fill="#f2eeb4"/><rect x="795.2" y="180.3" width="3.2" height="16" fill="#4a3418"/><rect x="801.3" y="180.3" width="3.2" height="16" fill="#4a3418"/><rect x="789.7" y="535.5" width="20.3" height="28" fill="#fbfbf2"/><rect x="792.4" y="538.5" width="14.9" height="22" fill="#e2cc7c"/><rect x="792.4" y="538.5" width="14.9" height="5" fill="#f2eeb4"/><rect x="795.2" y="543.8" width="3.2" height="16" fill="#4a3418"/><rect x="801.3" y="543.8" width="3.2" height="16" fill="#4a3418"/><rect x="789.5" y="459" width="20.3" height="26" rx="5" fill="#2f55c8"/><rect x="793" y="462.5" width="13.5" height="19" fill="#d4d8e4"/><rect x="796" y="466" width="7.5" height="12" fill="#5e5c30"/><g shape-rendering="crispEdges"><rect x="793.31" y="496" width="14.15" height="2.8" fill="#a4a4a4"/><rect x="790.54" y="498.5" width="3.07" height="2.8" fill="#a4a4a4"/><rect x="793.31" y="498.5" width="14.15" height="2.8" fill="#5a5a5a"/><rect x="807.16" y="498.5" width="3.07" height="2.8" fill="#a4a4a4"/><rect x="787.77" y="501" width="3.07" height="2.8" fill="#a4a4a4"/><rect x="790.54" y="501" width="3.07" height="2.8" fill="#5a5a5a"/><rect x="793.31" y="501" width="5.84" height="2.8" fill="#8e8e8e"/><rect x="798.85" y="501" width="3.07" height="2.8" fill="#5a5a5a"/><rect x="801.62" y="501" width="5.84" height="2.8" fill="#8e8e8e"/><rect x="807.16" y="501" width="3.07" height="2.8" fill="#5a5a5a"/><rect x="809.93" y="501" width="3.07" height="2.8" fill="#a4a4a4"/><rect x="787.77" y="503.5" width="3.07" height="2.8" fill="#a4a4a4"/><rect x="790.54" y="503.5" width="3.07" height="2.8" fill="#5a5a5a"/><rect x="793.31" y="503.5" width="5.84" height="2.8" fill="#8e8e8e"/><rect x="798.85" y="503.5" width="3.07" height="2.8" fill="#5a5a5a"/><rect x="801.62" y="503.5" width="5.84" height="2.8" fill="#8e8e8e"/><rect x="807.16" y="503.5" width="3.07" height="2.8" fill="#5a5a5a"/><rect x="809.93" y="503.5" width="3.07" height="2.8" fill="#a4a4a4"/><rect x="785" y="506" width="3.07" height="2.8" fill="#a4a4a4"/><rect x="787.77" y="506" width="3.07" height="2.8" fill="#5a5a5a"/><rect x="790.54" y="506" width="8.61" height="2.8" fill="#8e8e8e"/><rect x="798.85" y="506" width="3.07" height="2.8" fill="#5a5a5a"/><rect x="801.62" y="506" width="8.61" height="2.8" fill="#8e8e8e"/><rect x="809.93" y="506" width="3.07" height="2.8" fill="#5a5a5a"/><rect x="812.7" y="506" width="3.07" height="2.8" fill="#a4a4a4"/><rect x="785" y="508.5" width="3.07" height="2.8" fill="#a4a4a4"/><rect x="787.77" y="508.5" width="3.07" height="2.8" fill="#5a5a5a"/><rect x="790.54" y="508.5" width="8.61" height="2.8" fill="#8e8e8e"/><rect x="798.85" y="508.5" width="3.07" height="2.8" fill="#5a5a5a"/><rect x="801.62" y="508.5" width="8.61" height="2.8" fill="#8e8e8e"/><rect x="809.93" y="508.5" width="3.07" height="2.8" fill="#5a5a5a"/><rect x="812.7" y="508.5" width="3.07" height="2.8" fill="#a4a4a4"/><rect x="785" y="511" width="3.07" height="2.8" fill="#a4a4a4"/><rect x="787.77" y="511" width="3.07" height="2.8" fill="#5a5a5a"/><rect x="790.54" y="511" width="8.61" height="2.8" fill="#8e8e8e"/><rect x="798.85" y="511" width="3.07" height="2.8" fill="#5a5a5a"/><rect x="801.62" y="511" width="8.61" height="2.8" fill="#8e8e8e"/><rect x="809.93" y="511" width="3.07" height="2.8" fill="#5a5a5a"/><rect x="812.7" y="511" width="3.07" height="2.8" fill="#a4a4a4"/><rect x="785" y="513.5" width="3.07" height="2.8" fill="#a4a4a4"/><rect x="787.77" y="513.5" width="3.07" height="2.8" fill="#5a5a5a"/><rect x="790.54" y="513.5" width="8.61" height="2.8" fill="#8e8e8e"/><rect x="798.85" y="513.5" width="3.07" height="2.8" fill="#5a5a5a"/><rect x="801.62" y="513.5" width="8.61" height="2.8" fill="#8e8e8e"/><rect x="809.93" y="513.5" width="3.07" height="2.8" fill="#5a5a5a"/><rect x="812.7" y="513.5" width="3.07" height="2.8" fill="#a4a4a4"/><rect x="785" y="516" width="3.07" height="2.8" fill="#5a5a5a"/><rect x="787.77" y="516" width="11.38" height="2.8" fill="#8e8e8e"/><rect x="798.85" y="516" width="3.07" height="2.8" fill="#5a5a5a"/><rect x="801.62" y="516" width="11.38" height="2.8" fill="#8e8e8e"/><rect x="812.7" y="516" width="3.07" height="2.8" fill="#5a5a5a"/><rect x="785" y="518.5" width="3.07" height="2.8" fill="#5a5a5a"/><rect x="787.77" y="518.5" width="11.38" height="2.8" fill="#8e8e8e"/><rect x="798.85" y="518.5" width="3.07" height="2.8" fill="#b8e040"/><rect x="801.62" y="518.5" width="11.38" height="2.8" fill="#8e8e8e"/><rect x="812.7" y="518.5" width="3.07" height="2.8" fill="#5a5a5a"/><rect x="785" y="521" width="30.77" height="2.8" fill="#a4a4a4"/></g><rect x="752.3" y="243.3" width="94.9" height="94.9" fill="#abaaa8" stroke="#6e6464" stroke-width="2.6"/><circle cx="799.75" cy="290.75" r="45.8" fill="#bcbfc9"/><circle cx="799.75" cy="290.75" r="40.5" fill="#d0d0d3"/><circle cx="799.75" cy="290.75" r="35" fill="#8946a6"/><path d="M764.75 290.75H834.75 M799.75 255.75V325.75" stroke="#96889e" stroke-width="2.4"/><rect x="764.25" y="289.25" width="3" height="3" fill="#e8c4c4"/><rect x="832.25" y="289.25" width="3" height="3" fill="#e8c4c4"/><rect x="798.25" y="255.25" width="3" height="3" fill="#e8c4c4"/><rect x="798.25" y="323.25" width="3" height="3" fill="#e8c4c4"/><circle cx="799.75" cy="290.75" r="9.5" fill="#7a7a86"/><rect x="795.75" y="286.75" width="8" height="8" fill="#1e1e1e"/><rect x="798.25" y="289.45" width="3" height="2.6" fill="#f0ecd0"/><rect x="796.15" y="245" width="2" height="6" fill="#6e6a7a"/><rect x="801.35" y="245" width="2" height="6" fill="#6e6a7a"/><rect x="796.15" y="330.5" width="2" height="6" fill="#6e6a7a"/><rect x="801.35" y="330.5" width="2" height="6" fill="#6e6a7a"/><rect x="754" y="287.15" width="6" height="2" fill="#6e6a7a"/><rect x="754" y="292.35" width="6" height="2" fill="#6e6a7a"/><rect x="839.5" y="287.15" width="6" height="2" fill="#6e6a7a"/><rect x="839.5" y="292.35" width="6" height="2" fill="#6e6a7a"/><rect x="752.3" y="351.8" width="94.9" height="94.9" fill="#abaaa8" stroke="#6e6464" stroke-width="2.6"/><circle cx="799.75" cy="399.25" r="45.8" fill="#bcbfc9"/><circle cx="799.75" cy="399.25" r="40.5" fill="#d0d0d3"/><circle cx="799.75" cy="399.25" r="35" fill="#8946a6"/><path d="M764.75 399.25H834.75 M799.75 364.25V434.25" stroke="#96889e" stroke-width="2.4"/><rect x="764.25" y="397.75" width="3" height="3" fill="#e8c4c4"/><rect x="832.25" y="397.75" width="3" height="3" fill="#e8c4c4"/><rect x="798.25" y="363.75" width="3" height="3" fill="#e8c4c4"/><rect x="798.25" y="431.75" width="3" height="3" fill="#e8c4c4"/><circle cx="799.75" cy="399.25" r="9.5" fill="#7a7a86"/><rect x="795.75" y="395.25" width="8" height="8" fill="#1e1e1e"/><rect x="798.25" y="397.95" width="3" height="2.6" fill="#f0ecd0"/><rect x="796.15" y="353.5" width="2" height="6" fill="#6e6a7a"/><rect x="801.35" y="353.5" width="2" height="6" fill="#6e6a7a"/><rect x="796.15" y="439" width="2" height="6" fill="#6e6a7a"/><rect x="801.35" y="439" width="2" height="6" fill="#6e6a7a"/><rect x="754" y="395.65" width="6" height="2" fill="#6e6a7a"/><rect x="754" y="400.85" width="6" height="2" fill="#6e6a7a"/><rect x="839.5" y="395.65" width="6" height="2" fill="#6e6a7a"/><rect x="839.5" y="400.85" width="6" height="2" fill="#6e6a7a"/><rect x="679.3" y="498.3" width="94.9" height="94.9" fill="#abaaa8" stroke="#6e6464" stroke-width="2.6"/><circle cx="726.75" cy="545.75" r="45.8" fill="#bcbfc9"/><circle cx="726.75" cy="545.75" r="40.5" fill="#d0d0d3"/><circle cx="726.75" cy="545.75" r="35" fill="#8946a6"/><path d="M691.75 545.75H761.75 M726.75 510.75V580.75" stroke="#96889e" stroke-width="2.4"/><rect x="691.25" y="544.25" width="3" height="3" fill="#e8c4c4"/><rect x="759.25" y="544.25" width="3" height="3" fill="#e8c4c4"/><rect x="725.25" y="510.25" width="3" height="3" fill="#e8c4c4"/><rect x="725.25" y="578.25" width="3" height="3" fill="#e8c4c4"/><circle cx="726.75" cy="545.75" r="9.5" fill="#7a7a86"/><rect x="722.75" y="541.75" width="8" height="8" fill="#1e1e1e"/><rect x="725.25" y="544.45" width="3" height="2.6" fill="#f0ecd0"/><rect x="723.15" y="500" width="2" height="6" fill="#6e6a7a"/><rect x="728.35" y="500" width="2" height="6" fill="#6e6a7a"/><rect x="723.15" y="585.5" width="2" height="6" fill="#6e6a7a"/><rect x="728.35" y="585.5" width="2" height="6" fill="#6e6a7a"/><rect x="681" y="542.15" width="6" height="2" fill="#6e6a7a"/><rect x="681" y="547.35" width="6" height="2" fill="#6e6a7a"/><rect x="766.5" y="542.15" width="6" height="2" fill="#6e6a7a"/><rect x="766.5" y="547.35" width="6" height="2" fill="#6e6a7a"/><rect x="825.3" y="498.3" width="94.9" height="94.9" fill="#abaaa8" stroke="#6e6464" stroke-width="2.6"/><circle cx="872.75" cy="545.75" r="45.8" fill="#bcbfc9"/><circle cx="872.75" cy="545.75" r="40.5" fill="#d0d0d3"/><circle cx="872.75" cy="545.75" r="35" fill="#8946a6"/><path d="M837.75 545.75H907.75 M872.75 510.75V580.75" stroke="#96889e" stroke-width="2.4"/><rect x="837.25" y="544.25" width="3" height="3" fill="#e8c4c4"/><rect x="905.25" y="544.25" width="3" height="3" fill="#e8c4c4"/><rect x="871.25" y="510.25" width="3" height="3" fill="#e8c4c4"/><rect x="871.25" y="578.25" width="3" height="3" fill="#e8c4c4"/><circle cx="872.75" cy="545.75" r="9.5" fill="#7a7a86"/><rect x="868.75" y="541.75" width="8" height="8" fill="#1e1e1e"/><rect x="871.25" y="544.45" width="3" height="2.6" fill="#f0ecd0"/><rect x="869.15" y="500" width="2" height="6" fill="#6e6a7a"/><rect x="874.35" y="500" width="2" height="6" fill="#6e6a7a"/><rect x="869.15" y="585.5" width="2" height="6" fill="#6e6a7a"/><rect x="874.35" y="585.5" width="2" height="6" fill="#6e6a7a"/><rect x="827" y="542.15" width="6" height="2" fill="#6e6a7a"/><rect x="827" y="547.35" width="6" height="2" fill="#6e6a7a"/><rect x="912.5" y="542.15" width="6" height="2" fill="#6e6a7a"/><rect x="912.5" y="547.35" width="6" height="2" fill="#6e6a7a"/><rect x="752.3" y="606.8" width="94.9" height="94.9" fill="#abaaa8" stroke="#6e6464" stroke-width="2.6"/><circle cx="799.75" cy="654.25" r="45.8" fill="#bcbfc9"/><circle cx="799.75" cy="654.25" r="40.5" fill="#d0d0d3"/><circle cx="799.75" cy="654.25" r="35" fill="#8946a6"/><path d="M764.75 654.25H834.75 M799.75 619.25V689.25" stroke="#96889e" stroke-width="2.4"/><rect x="764.25" y="652.75" width="3" height="3" fill="#e8c4c4"/><rect x="832.25" y="652.75" width="3" height="3" fill="#e8c4c4"/><rect x="798.25" y="618.75" width="3" height="3" fill="#e8c4c4"/><rect x="798.25" y="686.75" width="3" height="3" fill="#e8c4c4"/><circle cx="799.75" cy="654.25" r="9.5" fill="#7a7a86"/><rect x="795.75" y="650.25" width="8" height="8" fill="#1e1e1e"/><rect x="798.25" y="652.95" width="3" height="2.6" fill="#f0ecd0"/><rect x="796.15" y="608.5" width="2" height="6" fill="#6e6a7a"/><rect x="801.35" y="608.5" width="2" height="6" fill="#6e6a7a"/><rect x="796.15" y="694" width="2" height="6" fill="#6e6a7a"/><rect x="801.35" y="694" width="2" height="6" fill="#6e6a7a"/><rect x="754" y="650.65" width="6" height="2" fill="#6e6a7a"/><rect x="754" y="655.85" width="6" height="2" fill="#6e6a7a"/><rect x="839.5" y="650.65" width="6" height="2" fill="#6e6a7a"/><rect x="839.5" y="655.85" width="6" height="2" fill="#6e6a7a"/></svg><div style="position:absolute;left:0;top:0;width:1600px;height:78.3px;background:rgba(255,255,255,0.333)"></div><svg width="1600" height="800" viewBox="0 0 1600 800" style="position:absolute;left:0;top:0"><rect x="0" y="0" width="242" height="79" fill="#a7acba"/><rect x="5" y="4.5" width="69.5" height="69.5" fill="#222"/><rect x="85.6" y="4.5" width="69.5" height="69.5" fill="#222"/><rect x="167.2" y="4.5" width="69.5" height="69.5" fill="#222"/><rect x="48.4" y="4.5" width="11.2" height="5.6" fill="#c2c2c2"/><rect x="59.4" y="4.5" width="3.9" height="5.6" fill="#9a9a9a"/><rect x="42.95" y="9.85" width="11.2" height="5.6" fill="#c2c2c2"/><rect x="53.95" y="9.85" width="3.9" height="5.6" fill="#9a9a9a"/><rect x="37.5" y="15.2" width="11.2" height="5.6" fill="#c2c2c2"/><rect x="48.5" y="15.2" width="3.9" height="5.6" fill="#9a9a9a"/><rect x="32.05" y="20.55" width="11.2" height="5.6" fill="#c2c2c2"/><rect x="43.05" y="20.55" width="3.9" height="5.6" fill="#9a9a9a"/><rect x="26.6" y="25.9" width="11.2" height="5.6" fill="#c2c2c2"/><rect x="37.6" y="25.9" width="3.9" height="5.6" fill="#9a9a9a"/><rect x="21.15" y="31.25" width="11.2" height="5.6" fill="#c2c2c2"/><rect x="32.15" y="31.25" width="3.9" height="5.6" fill="#9a9a9a"/><rect x="15.7" y="36.6" width="11.2" height="5.6" fill="#c2c2c2"/><rect x="26.7" y="36.6" width="3.9" height="5.6" fill="#9a9a9a"/><rect x="21.15" y="41.95" width="11.2" height="5.6" fill="#c2c2c2"/><rect x="32.15" y="41.95" width="3.9" height="5.6" fill="#9a9a9a"/><rect x="26.6" y="47.3" width="11.2" height="5.6" fill="#c2c2c2"/><rect x="37.6" y="47.3" width="3.9" height="5.6" fill="#9a9a9a"/><rect x="32.05" y="52.65" width="11.2" height="5.6" fill="#c2c2c2"/><rect x="43.05" y="52.65" width="3.9" height="5.6" fill="#9a9a9a"/><rect x="37.5" y="58" width="11.2" height="5.6" fill="#c2c2c2"/><rect x="48.5" y="58" width="3.9" height="5.6" fill="#9a9a9a"/><rect x="42.95" y="63.35" width="11.2" height="5.6" fill="#c2c2c2"/><rect x="53.95" y="63.35" width="3.9" height="5.6" fill="#9a9a9a"/><rect x="48.4" y="68.7" width="11.2" height="5.6" fill="#c2c2c2"/><rect x="59.4" y="68.7" width="3.9" height="5.6" fill="#9a9a9a"/><rect x="112" y="4.5" width="17" height="10.7" fill="#8e8e8e"/><rect x="112" y="63.5" width="17" height="10.5" fill="#8e8e8e"/><rect x="85.6" y="31" width="11.3" height="16.8" fill="#8e8e8e"/><rect x="144.7" y="31" width="10.4" height="16.8" fill="#8e8e8e"/><rect x="90.7" y="10" width="10.7" height="10" fill="#989898"/><rect x="139.7" y="10" width="10.7" height="10" fill="#989898"/><rect x="90.7" y="58.5" width="10.7" height="10" fill="#989898"/><rect x="139.7" y="58.5" width="10.7" height="10" fill="#989898"/><circle cx="120.5" cy="39.3" r="24" fill="#adadad"/><rect x="101.4" y="15.7" width="5" height="4.5" fill="#9a9a9a"/><rect x="96.9" y="20.2" width="4.5" height="5.1" fill="#9a9a9a"/><rect x="134.6" y="15.7" width="5.1" height="4.5" fill="#9a9a9a"/><rect x="139.7" y="20.2" width="4.6" height="5.1" fill="#9a9a9a"/><rect x="101.4" y="58.5" width="5" height="4.5" fill="#9a9a9a"/><rect x="96.9" y="53.4" width="4.5" height="5.1" fill="#9a9a9a"/><rect x="134.6" y="58.5" width="5.1" height="4.5" fill="#9a9a9a"/><rect x="139.7" y="53.4" width="4.6" height="5.1" fill="#9a9a9a"/><rect x="112" y="31" width="17" height="16.8" fill="#8e8e8e"/><rect x="117.6" y="25.4" width="5.8" height="28" fill="#8e8e8e"/><rect x="106.4" y="36.6" width="28.2" height="5.6" fill="#8e8e8e"/><rect x="188" y="4.5" width="27.5" height="5.1" fill="#b0b0b0"/><rect x="188" y="69" width="27.5" height="5" fill="#b0b0b0"/><rect x="167.2" y="25.9" width="5" height="27" fill="#b0b0b0"/><rect x="231.7" y="25.9" width="5" height="27" fill="#b0b0b0"/><rect x="178" y="10" width="10" height="5.2" fill="#b0b0b0"/><rect x="172.2" y="15.2" width="5.8" height="10.1" fill="#b0b0b0"/><rect x="215.5" y="10" width="10" height="5.2" fill="#b0b0b0"/><rect x="225.5" y="15.2" width="5.8" height="10.1" fill="#b0b0b0"/><rect x="178" y="63.5" width="10" height="5.2" fill="#b0b0b0"/><rect x="172.2" y="53.4" width="5.8" height="10.1" fill="#b0b0b0"/><rect x="215.5" y="63.5" width="10" height="5.2" fill="#b0b0b0"/><rect x="225.5" y="53.4" width="5.8" height="10.1" fill="#b0b0b0"/><rect x="193.6" y="20.2" width="16.4" height="5.1" fill="#b0b0b0"/><rect x="188" y="25.9" width="5" height="5.1" fill="#b0b0b0"/><rect x="210" y="25.9" width="5.5" height="10.1" fill="#b0b0b0"/><rect x="205" y="36.3" width="5" height="5.3" fill="#b0b0b0"/><rect x="199.2" y="41.6" width="5.1" height="11.3" fill="#b0b0b0"/><rect x="199.2" y="58.5" width="5.1" height="5" fill="#b0b0b0"/><rect x="0" y="79" width="240.2" height="721" fill="#464646"/><rect x="10.75" y="170.5" width="101.5" height="101.5" rx="4" fill="#363636"/><rect x="14.25" y="173.7" width="95" height="95.5" fill="#959595"/><g shape-rendering="crispEdges"><rect x="42.85" y="180.8" width="36.8" height="7.6" fill="#a6a6a6"/><rect x="35.55" y="188.1" width="7.6" height="7.6" fill="#a6a6a6"/><rect x="42.85" y="188.1" width="36.8" height="7.6" fill="#444444"/><rect x="79.35" y="188.1" width="7.6" height="7.6" fill="#a6a6a6"/><rect x="28.25" y="195.4" width="7.6" height="7.6" fill="#a6a6a6"/><rect x="35.55" y="195.4" width="7.6" height="7.6" fill="#444444"/><rect x="42.85" y="195.4" width="14.9" height="7.6" fill="#8c8c8c"/><rect x="57.45" y="195.4" width="7.6" height="7.6" fill="#444444"/><rect x="64.75" y="195.4" width="14.9" height="7.6" fill="#8c8c8c"/><rect x="79.35" y="195.4" width="7.6" height="7.6" fill="#444444"/><rect x="86.65" y="195.4" width="7.6" height="7.6" fill="#a6a6a6"/><rect x="28.25" y="202.7" width="7.6" height="7.6" fill="#a6a6a6"/><rect x="35.55" y="202.7" width="7.6" height="7.6" fill="#444444"/><rect x="42.85" y="202.7" width="14.9" height="7.6" fill="#8c8c8c"/><rect x="57.45" y="202.7" width="7.6" height="7.6" fill="#444444"/><rect x="64.75" y="202.7" width="14.9" height="7.6" fill="#8c8c8c"/><rect x="79.35" y="202.7" width="7.6" height="7.6" fill="#444444"/><rect x="86.65" y="202.7" width="7.6" height="7.6" fill="#a6a6a6"/><rect x="20.95" y="210" width="7.6" height="7.6" fill="#a6a6a6"/><rect x="28.25" y="210" width="7.6" height="7.6" fill="#444444"/><rect x="35.55" y="210" width="22.2" height="7.6" fill="#8c8c8c"/><rect x="57.45" y="210" width="7.6" height="7.6" fill="#444444"/><rect x="64.75" y="210" width="22.2" height="7.6" fill="#8c8c8c"/><rect x="86.65" y="210" width="7.6" height="7.6" fill="#444444"/><rect x="93.95" y="210" width="7.6" height="7.6" fill="#a6a6a6"/><rect x="20.95" y="217.3" width="7.6" height="7.6" fill="#a6a6a6"/><rect x="28.25" y="217.3" width="7.6" height="7.6" fill="#444444"/><rect x="35.55" y="217.3" width="22.2" height="7.6" fill="#8c8c8c"/><rect x="57.45" y="217.3" width="7.6" height="7.6" fill="#444444"/><rect x="64.75" y="217.3" width="22.2" height="7.6" fill="#8c8c8c"/><rect x="86.65" y="217.3" width="7.6" height="7.6" fill="#444444"/><rect x="93.95" y="217.3" width="7.6" height="7.6" fill="#a6a6a6"/><rect x="20.95" y="224.6" width="7.6" height="7.6" fill="#a6a6a6"/><rect x="28.25" y="224.6" width="7.6" height="7.6" fill="#444444"/><rect x="35.55" y="224.6" width="7.6" height="7.6" fill="#8c8c8c"/><rect x="42.85" y="224.6" width="7.6" height="7.6" fill="#5c4646"/><rect x="50.15" y="224.6" width="7.6" height="7.6" fill="#8c8c8c"/><rect x="57.45" y="224.6" width="7.6" height="7.6" fill="#444444"/><rect x="64.75" y="224.6" width="22.2" height="7.6" fill="#8c8c8c"/><rect x="86.65" y="224.6" width="7.6" height="7.6" fill="#444444"/><rect x="93.95" y="224.6" width="7.6" height="7.6" fill="#a6a6a6"/><rect x="20.95" y="231.9" width="7.6" height="7.6" fill="#a6a6a6"/><rect x="28.25" y="231.9" width="7.6" height="7.6" fill="#444444"/><rect x="35.55" y="231.9" width="22.2" height="7.6" fill="#8c8c8c"/><rect x="57.45" y="231.9" width="7.6" height="7.6" fill="#444444"/><rect x="64.75" y="231.9" width="22.2" height="7.6" fill="#8c8c8c"/><rect x="86.65" y="231.9" width="7.6" height="7.6" fill="#444444"/><rect x="93.95" y="231.9" width="7.6" height="7.6" fill="#a6a6a6"/><rect x="20.95" y="239.2" width="7.6" height="7.6" fill="#444444"/><rect x="28.25" y="239.2" width="29.5" height="7.6" fill="#8c8c8c"/><rect x="57.45" y="239.2" width="7.6" height="7.6" fill="#444444"/><rect x="64.75" y="239.2" width="29.5" height="7.6" fill="#8c8c8c"/><rect x="93.95" y="239.2" width="7.6" height="7.6" fill="#444444"/><rect x="20.95" y="246.5" width="7.6" height="7.6" fill="#444444"/><rect x="28.25" y="246.5" width="29.5" height="7.6" fill="#8c8c8c"/><rect x="57.45" y="246.5" width="7.6" height="7.6" fill="#8ee020"/><rect x="64.75" y="246.5" width="29.5" height="7.6" fill="#8c8c8c"/><rect x="93.95" y="246.5" width="7.6" height="7.6" fill="#444444"/><rect x="20.95" y="253.8" width="80.6" height="7.6" fill="#a6a6a6"/></g><rect x="127.75" y="170.5" width="101.5" height="101.5" rx="4" fill="#363636"/><rect x="131.25" y="173.7" width="95" height="95.5" fill="#959595"/><g shape-rendering="crispEdges"><rect x="137.95" y="180.8" width="14.9" height="7.6" fill="#444444"/><rect x="152.55" y="180.8" width="22.2" height="7.6" fill="#8c8c8c"/><rect x="174.45" y="180.8" width="14.9" height="7.6" fill="#444444"/><rect x="189.05" y="180.8" width="7.6" height="7.6" fill="#5c4646"/><rect x="196.35" y="180.8" width="7.6" height="7.6" fill="#444444"/><rect x="203.65" y="180.8" width="14.9" height="7.6" fill="#808080"/><rect x="137.95" y="188.1" width="7.6" height="7.6" fill="#444444"/><rect x="145.25" y="188.1" width="36.8" height="7.6" fill="#8c8c8c"/><rect x="181.75" y="188.1" width="7.6" height="7.6" fill="#444444"/><rect x="189.05" y="188.1" width="7.6" height="7.6" fill="#5c4646"/><rect x="196.35" y="188.1" width="7.6" height="7.6" fill="#444444"/><rect x="203.65" y="188.1" width="14.9" height="7.6" fill="#808080"/><rect x="137.95" y="195.4" width="51.4" height="7.6" fill="#8c8c8c"/><rect x="189.05" y="195.4" width="14.9" height="7.6" fill="#50508a"/><rect x="203.65" y="195.4" width="14.9" height="7.6" fill="#808080"/><rect x="137.95" y="202.7" width="22.2" height="7.6" fill="#8c8c8c"/><rect x="159.85" y="202.7" width="7.6" height="7.6" fill="#50508a"/><rect x="167.15" y="202.7" width="22.2" height="7.6" fill="#8c8c8c"/><rect x="189.05" y="202.7" width="14.9" height="7.6" fill="#50508a"/><rect x="203.65" y="202.7" width="14.9" height="7.6" fill="#808080"/><rect x="137.95" y="210" width="51.4" height="7.6" fill="#8c8c8c"/><rect x="189.05" y="210" width="14.9" height="7.6" fill="#50508a"/><rect x="203.65" y="210" width="14.9" height="7.6" fill="#808080"/><rect x="137.95" y="217.3" width="7.6" height="7.6" fill="#444444"/><rect x="145.25" y="217.3" width="36.8" height="7.6" fill="#8c8c8c"/><rect x="181.75" y="217.3" width="7.6" height="7.6" fill="#444444"/><rect x="189.05" y="217.3" width="7.6" height="7.6" fill="#5c4646"/><rect x="196.35" y="217.3" width="7.6" height="7.6" fill="#444444"/><rect x="203.65" y="217.3" width="14.9" height="7.6" fill="#808080"/><rect x="137.95" y="224.6" width="14.9" height="7.6" fill="#444444"/><rect x="152.55" y="224.6" width="22.2" height="7.6" fill="#8c8c8c"/><rect x="174.45" y="224.6" width="14.9" height="7.6" fill="#444444"/><rect x="189.05" y="224.6" width="7.6" height="7.6" fill="#5c4646"/><rect x="196.35" y="224.6" width="7.6" height="7.6" fill="#444444"/><rect x="203.65" y="224.6" width="14.9" height="7.6" fill="#808080"/><rect x="137.95" y="231.9" width="14.9" height="7.6" fill="#444444"/><rect x="152.55" y="231.9" width="22.2" height="7.6" fill="#50508a"/><rect x="174.45" y="231.9" width="22.2" height="7.6" fill="#5c4646"/><rect x="196.35" y="231.9" width="22.2" height="7.6" fill="#444444"/><rect x="137.95" y="239.2" width="14.9" height="7.6" fill="#444444"/><rect x="152.55" y="239.2" width="22.2" height="7.6" fill="#50508a"/><rect x="174.45" y="239.2" width="14.9" height="7.6" fill="#444444"/><rect x="189.05" y="239.2" width="7.6" height="7.6" fill="#5c4646"/><rect x="196.35" y="239.2" width="22.2" height="7.6" fill="#444444"/><rect x="137.95" y="246.5" width="51.4" height="7.6" fill="#868686"/><rect x="189.05" y="246.5" width="29.5" height="7.6" fill="#5c4646"/><rect x="137.95" y="253.8" width="51.4" height="7.6" fill="#868686"/><rect x="189.05" y="253.8" width="29.5" height="7.6" fill="#444444"/></g><rect x="10.75" y="287" width="101.5" height="101.5" rx="4" fill="#363636"/><rect x="14.25" y="290.2" width="95" height="95.5" fill="#959595"/><g shape-rendering="crispEdges"><rect x="20.95" y="297.3" width="80.6" height="7.6" fill="#a3a7bb"/><rect x="20.95" y="304.6" width="7.6" height="7.6" fill="#a3a7bb"/><rect x="28.25" y="304.6" width="7.6" height="7.6" fill="#9c9c9c"/><rect x="35.55" y="304.6" width="36.8" height="7.6" fill="#5c4646"/><rect x="72.05" y="304.6" width="22.2" height="7.6" fill="#9c9c9c"/><rect x="93.95" y="304.6" width="7.6" height="7.6" fill="#a3a7bb"/><rect x="20.95" y="311.9" width="7.6" height="7.6" fill="#a3a7bb"/><rect x="28.25" y="311.9" width="7.6" height="7.6" fill="#5c4646"/><rect x="35.55" y="311.9" width="14.9" height="7.6" fill="#9c9c9c"/><rect x="50.15" y="311.9" width="7.6" height="7.6" fill="#5c4646"/><rect x="57.45" y="311.9" width="36.8" height="7.6" fill="#9c9c9c"/><rect x="93.95" y="311.9" width="7.6" height="7.6" fill="#a3a7bb"/><rect x="20.95" y="319.2" width="7.6" height="7.6" fill="#a3a7bb"/><rect x="28.25" y="319.2" width="7.6" height="7.6" fill="#5c4646"/><rect x="35.55" y="319.2" width="7.6" height="7.6" fill="#9c9c9c"/><rect x="42.85" y="319.2" width="22.2" height="7.6" fill="#444444"/><rect x="64.75" y="319.2" width="7.6" height="7.6" fill="#9c9c9c"/><rect x="72.05" y="319.2" width="14.9" height="7.6" fill="#50508a"/><rect x="86.65" y="319.2" width="7.6" height="7.6" fill="#9c9c9c"/><rect x="93.95" y="319.2" width="7.6" height="7.6" fill="#a3a7bb"/><rect x="20.95" y="326.5" width="7.6" height="7.6" fill="#a3a7bb"/><rect x="28.25" y="326.5" width="14.9" height="7.6" fill="#5c4646"/><rect x="42.85" y="326.5" width="7.6" height="7.6" fill="#444444"/><rect x="50.15" y="326.5" width="7.6" height="7.6" fill="#8ee020"/><rect x="57.45" y="326.5" width="7.6" height="7.6" fill="#444444"/><rect x="64.75" y="326.5" width="7.6" height="7.6" fill="#5c4646"/><rect x="72.05" y="326.5" width="14.9" height="7.6" fill="#50508a"/><rect x="86.65" y="326.5" width="7.6" height="7.6" fill="#9c9c9c"/><rect x="93.95" y="326.5" width="7.6" height="7.6" fill="#a3a7bb"/><rect x="20.95" y="333.8" width="7.6" height="7.6" fill="#a3a7bb"/><rect x="28.25" y="333.8" width="7.6" height="7.6" fill="#5c4646"/><rect x="35.55" y="333.8" width="7.6" height="7.6" fill="#9c9c9c"/><rect x="42.85" y="333.8" width="22.2" height="7.6" fill="#444444"/><rect x="64.75" y="333.8" width="7.6" height="7.6" fill="#9c9c9c"/><rect x="72.05" y="333.8" width="14.9" height="7.6" fill="#50508a"/><rect x="86.65" y="333.8" width="7.6" height="7.6" fill="#9c9c9c"/><rect x="93.95" y="333.8" width="7.6" height="7.6" fill="#a3a7bb"/><rect x="20.95" y="341.1" width="7.6" height="7.6" fill="#a3a7bb"/><rect x="28.25" y="341.1" width="7.6" height="7.6" fill="#5c4646"/><rect x="35.55" y="341.1" width="14.9" height="7.6" fill="#9c9c9c"/><rect x="50.15" y="341.1" width="7.6" height="7.6" fill="#5c4646"/><rect x="57.45" y="341.1" width="36.8" height="7.6" fill="#9c9c9c"/><rect x="93.95" y="341.1" width="7.6" height="7.6" fill="#a3a7bb"/><rect x="20.95" y="348.4" width="7.6" height="7.6" fill="#a3a7bb"/><rect x="28.25" y="348.4" width="7.6" height="7.6" fill="#9c9c9c"/><rect x="35.55" y="348.4" width="29.5" height="7.6" fill="#5c4646"/><rect x="64.75" y="348.4" width="29.5" height="7.6" fill="#9c9c9c"/><rect x="93.95" y="348.4" width="7.6" height="7.6" fill="#a3a7bb"/><rect x="20.95" y="355.7" width="7.6" height="7.6" fill="#a3a7bb"/><rect x="28.25" y="355.7" width="22.2" height="7.6" fill="#9c9c9c"/><rect x="50.15" y="355.7" width="7.6" height="7.6" fill="#5c4646"/><rect x="57.45" y="355.7" width="36.8" height="7.6" fill="#9c9c9c"/><rect x="93.95" y="355.7" width="7.6" height="7.6" fill="#a3a7bb"/><rect x="20.95" y="363" width="7.6" height="7.6" fill="#a3a7bb"/><rect x="28.25" y="363" width="22.2" height="7.6" fill="#9c9c9c"/><rect x="50.15" y="363" width="7.6" height="7.6" fill="#5c4646"/><rect x="57.45" y="363" width="36.8" height="7.6" fill="#9c9c9c"/><rect x="93.95" y="363" width="7.6" height="7.6" fill="#a3a7bb"/><rect x="20.95" y="370.3" width="80.6" height="7.6" fill="#a3a7bb"/></g><rect x="127.75" y="287" width="101.5" height="101.5" rx="4" fill="#363636"/><rect x="131.25" y="290.2" width="95" height="95.5" fill="#959595"/><g shape-rendering="crispEdges"><rect x="152.55" y="304.6" width="51.4" height="7.6" fill="#5c4646"/><rect x="145.25" y="311.9" width="7.6" height="7.6" fill="#5c4646"/><rect x="174.45" y="311.9" width="7.6" height="7.6" fill="#5c4646"/><rect x="203.65" y="311.9" width="7.6" height="7.6" fill="#5c4646"/><rect x="145.25" y="319.2" width="7.6" height="7.6" fill="#5c4646"/><rect x="167.15" y="319.2" width="22.2" height="7.6" fill="#444444"/><rect x="203.65" y="319.2" width="7.6" height="7.6" fill="#5c4646"/><rect x="145.25" y="326.5" width="7.6" height="7.6" fill="#5c4646"/><rect x="159.85" y="326.5" width="36.8" height="7.6" fill="#444444"/><rect x="203.65" y="326.5" width="7.6" height="7.6" fill="#5c4646"/><rect x="145.25" y="333.8" width="14.9" height="7.6" fill="#5c4646"/><rect x="159.85" y="333.8" width="14.9" height="7.6" fill="#444444"/><rect x="174.45" y="333.8" width="7.6" height="7.6" fill="#8ee020"/><rect x="181.75" y="333.8" width="14.9" height="7.6" fill="#444444"/><rect x="196.35" y="333.8" width="14.9" height="7.6" fill="#5c4646"/><rect x="145.25" y="341.1" width="7.6" height="7.6" fill="#5c4646"/><rect x="159.85" y="341.1" width="36.8" height="7.6" fill="#444444"/><rect x="203.65" y="341.1" width="7.6" height="7.6" fill="#5c4646"/><rect x="145.25" y="348.4" width="7.6" height="7.6" fill="#5c4646"/><rect x="167.15" y="348.4" width="22.2" height="7.6" fill="#444444"/><rect x="203.65" y="348.4" width="7.6" height="7.6" fill="#5c4646"/><rect x="145.25" y="355.7" width="7.6" height="7.6" fill="#5c4646"/><rect x="174.45" y="355.7" width="7.6" height="7.6" fill="#5c4646"/><rect x="203.65" y="355.7" width="7.6" height="7.6" fill="#5c4646"/><rect x="152.55" y="363" width="51.4" height="7.6" fill="#5c4646"/></g><polygon points="240,79.5 320,79.5 320,108 317.6,108 317.6,83 243.3,83 243.3,132.8 292.5,132.8 292.5,136.3 240,136.3" fill="#2ee32e"/><polygon points="243.3,83 317.6,83 317.6,107 292.5,132.8 243.3,132.8" fill="#232323"/><rect x="317" y="106.6" width="2.6" height="2.7" fill="#2ee32e"/><rect x="313.87" y="109.82" width="2.6" height="2.7" fill="#2ee32e"/><rect x="310.74" y="113.04" width="2.6" height="2.7" fill="#2ee32e"/><rect x="307.61" y="116.26" width="2.6" height="2.7" fill="#2ee32e"/><rect x="304.48" y="119.48" width="2.6" height="2.7" fill="#2ee32e"/><rect x="301.35" y="122.7" width="2.6" height="2.7" fill="#2ee32e"/><rect x="298.22" y="125.92" width="2.6" height="2.7" fill="#2ee32e"/><rect x="295.09" y="129.14" width="2.6" height="2.7" fill="#2ee32e"/><rect x="291.96" y="132.36" width="2.6" height="2.7" fill="#2ee32e"/><polygon points="240,136.3 320,136.3 320,164.8 317.6,164.8 317.6,139.8 243.3,139.8 243.3,189.6 292.5,189.6 292.5,193.1 240,193.1" fill="#a7acba"/><polygon points="243.3,139.8 317.6,139.8 317.6,163.8 292.5,189.6 243.3,189.6" fill="#232323"/><rect x="317" y="163.4" width="2.6" height="2.7" fill="#a7acba"/><rect x="313.87" y="166.62" width="2.6" height="2.7" fill="#a7acba"/><rect x="310.74" y="169.84" width="2.6" height="2.7" fill="#a7acba"/><rect x="307.61" y="173.06" width="2.6" height="2.7" fill="#a7acba"/><rect x="304.48" y="176.28" width="2.6" height="2.7" fill="#a7acba"/><rect x="301.35" y="179.5" width="2.6" height="2.7" fill="#a7acba"/><rect x="298.22" y="182.72" width="2.6" height="2.7" fill="#a7acba"/><rect x="295.09" y="185.94" width="2.6" height="2.7" fill="#a7acba"/><rect x="291.96" y="189.16" width="2.6" height="2.7" fill="#a7acba"/><polygon points="240,193.1 320,193.1 320,221.6 317.6,221.6 317.6,196.6 243.3,196.6 243.3,246.4 292.5,246.4 292.5,249.9 240,249.9" fill="#a7acba"/><polygon points="243.3,196.6 317.6,196.6 317.6,220.6 292.5,246.4 243.3,246.4" fill="#232323"/><rect x="317" y="220.2" width="2.6" height="2.7" fill="#a7acba"/><rect x="313.87" y="223.42" width="2.6" height="2.7" fill="#a7acba"/><rect x="310.74" y="226.64" width="2.6" height="2.7" fill="#a7acba"/><rect x="307.61" y="229.86" width="2.6" height="2.7" fill="#a7acba"/><rect x="304.48" y="233.08" width="2.6" height="2.7" fill="#a7acba"/><rect x="301.35" y="236.3" width="2.6" height="2.7" fill="#a7acba"/><rect x="298.22" y="239.52" width="2.6" height="2.7" fill="#a7acba"/><rect x="295.09" y="242.74" width="2.6" height="2.7" fill="#a7acba"/><rect x="291.96" y="245.96" width="2.6" height="2.7" fill="#a7acba"/><polygon points="240,249.9 320,249.9 320,278.4 317.6,278.4 317.6,253.4 243.3,253.4 243.3,303.2 292.5,303.2 292.5,306.7 240,306.7" fill="#a7acba"/><polygon points="243.3,253.4 317.6,253.4 317.6,277.4 292.5,303.2 243.3,303.2" fill="#232323"/><rect x="317" y="277" width="2.6" height="2.7" fill="#a7acba"/><rect x="313.87" y="280.22" width="2.6" height="2.7" fill="#a7acba"/><rect x="310.74" y="283.44" width="2.6" height="2.7" fill="#a7acba"/><rect x="307.61" y="286.66" width="2.6" height="2.7" fill="#a7acba"/><rect x="304.48" y="289.88" width="2.6" height="2.7" fill="#a7acba"/><rect x="301.35" y="293.1" width="2.6" height="2.7" fill="#a7acba"/><rect x="298.22" y="296.32" width="2.6" height="2.7" fill="#a7acba"/><rect x="295.09" y="299.54" width="2.6" height="2.7" fill="#a7acba"/><rect x="291.96" y="302.76" width="2.6" height="2.7" fill="#a7acba"/><polygon points="240,306.7 320,306.7 320,335.2 317.6,335.2 317.6,310.2 243.3,310.2 243.3,360 292.5,360 292.5,363.5 240,363.5" fill="#a7acba"/><polygon points="243.3,310.2 317.6,310.2 317.6,334.2 292.5,360 243.3,360" fill="#232323"/><rect x="317" y="333.8" width="2.6" height="2.7" fill="#a7acba"/><rect x="313.87" y="337.02" width="2.6" height="2.7" fill="#a7acba"/><rect x="310.74" y="340.24" width="2.6" height="2.7" fill="#a7acba"/><rect x="307.61" y="343.46" width="2.6" height="2.7" fill="#a7acba"/><rect x="304.48" y="346.68" width="2.6" height="2.7" fill="#a7acba"/><rect x="301.35" y="349.9" width="2.6" height="2.7" fill="#a7acba"/><rect x="298.22" y="353.12" width="2.6" height="2.7" fill="#a7acba"/><rect x="295.09" y="356.34" width="2.6" height="2.7" fill="#a7acba"/><rect x="291.96" y="359.56" width="2.6" height="2.7" fill="#a7acba"/><polygon points="240,363.5 320,363.5 320,392 317.6,392 317.6,367 243.3,367 243.3,416.8 292.5,416.8 292.5,420.3 240,420.3" fill="#a7acba"/><polygon points="243.3,367 317.6,367 317.6,391 292.5,416.8 243.3,416.8" fill="#232323"/><rect x="317" y="390.6" width="2.6" height="2.7" fill="#a7acba"/><rect x="313.87" y="393.82" width="2.6" height="2.7" fill="#a7acba"/><rect x="310.74" y="397.04" width="2.6" height="2.7" fill="#a7acba"/><rect x="307.61" y="400.26" width="2.6" height="2.7" fill="#a7acba"/><rect x="304.48" y="403.48" width="2.6" height="2.7" fill="#a7acba"/><rect x="301.35" y="406.7" width="2.6" height="2.7" fill="#a7acba"/><rect x="298.22" y="409.92" width="2.6" height="2.7" fill="#a7acba"/><rect x="295.09" y="413.14" width="2.6" height="2.7" fill="#a7acba"/><rect x="291.96" y="416.36" width="2.6" height="2.7" fill="#a7acba"/><polygon points="240,420.3 320,420.3 320,448.8 317.6,448.8 317.6,423.8 243.3,423.8 243.3,473.6 292.5,473.6 292.5,477.1 240,477.1" fill="#a7acba"/><polygon points="243.3,423.8 317.6,423.8 317.6,447.8 292.5,473.6 243.3,473.6" fill="#232323"/><rect x="317" y="447.4" width="2.6" height="2.7" fill="#a7acba"/><rect x="313.87" y="450.62" width="2.6" height="2.7" fill="#a7acba"/><rect x="310.74" y="453.84" width="2.6" height="2.7" fill="#a7acba"/><rect x="307.61" y="457.06" width="2.6" height="2.7" fill="#a7acba"/><rect x="304.48" y="460.28" width="2.6" height="2.7" fill="#a7acba"/><rect x="301.35" y="463.5" width="2.6" height="2.7" fill="#a7acba"/><rect x="298.22" y="466.72" width="2.6" height="2.7" fill="#a7acba"/><rect x="295.09" y="469.94" width="2.6" height="2.7" fill="#a7acba"/><rect x="291.96" y="473.16" width="2.6" height="2.7" fill="#a7acba"/><polygon points="240,477.1 320,477.1 320,505.6 317.6,505.6 317.6,480.6 243.3,480.6 243.3,530.4 292.5,530.4 292.5,533.9 240,533.9" fill="#a7acba"/><polygon points="243.3,480.6 317.6,480.6 317.6,504.6 292.5,530.4 243.3,530.4" fill="#232323"/><rect x="317" y="504.2" width="2.6" height="2.7" fill="#a7acba"/><rect x="313.87" y="507.42" width="2.6" height="2.7" fill="#a7acba"/><rect x="310.74" y="510.64" width="2.6" height="2.7" fill="#a7acba"/><rect x="307.61" y="513.86" width="2.6" height="2.7" fill="#a7acba"/><rect x="304.48" y="517.08" width="2.6" height="2.7" fill="#a7acba"/><rect x="301.35" y="520.3" width="2.6" height="2.7" fill="#a7acba"/><rect x="298.22" y="523.52" width="2.6" height="2.7" fill="#a7acba"/><rect x="295.09" y="526.74" width="2.6" height="2.7" fill="#a7acba"/><rect x="291.96" y="529.96" width="2.6" height="2.7" fill="#a7acba"/><polygon points="240,533.9 320,533.9 320,562.4 317.6,562.4 317.6,537.4 243.3,537.4 243.3,587.2 292.5,587.2 292.5,590.7 240,590.7" fill="#a7acba"/><polygon points="243.3,537.4 317.6,537.4 317.6,561.4 292.5,587.2 243.3,587.2" fill="#232323"/><rect x="317" y="561" width="2.6" height="2.7" fill="#a7acba"/><rect x="313.87" y="564.22" width="2.6" height="2.7" fill="#a7acba"/><rect x="310.74" y="567.44" width="2.6" height="2.7" fill="#a7acba"/><rect x="307.61" y="570.66" width="2.6" height="2.7" fill="#a7acba"/><rect x="304.48" y="573.88" width="2.6" height="2.7" fill="#a7acba"/><rect x="301.35" y="577.1" width="2.6" height="2.7" fill="#a7acba"/><rect x="298.22" y="580.32" width="2.6" height="2.7" fill="#a7acba"/><rect x="295.09" y="583.54" width="2.6" height="2.7" fill="#a7acba"/><rect x="291.96" y="586.76" width="2.6" height="2.7" fill="#a7acba"/><polygon points="240,590.7 320,590.7 320,619.2 317.6,619.2 317.6,594.2 243.3,594.2 243.3,644 292.5,644 292.5,647.5 240,647.5" fill="#a7acba"/><polygon points="243.3,594.2 317.6,594.2 317.6,618.2 292.5,644 243.3,644" fill="#232323"/><rect x="317" y="617.8" width="2.6" height="2.7" fill="#a7acba"/><rect x="313.87" y="621.02" width="2.6" height="2.7" fill="#a7acba"/><rect x="310.74" y="624.24" width="2.6" height="2.7" fill="#a7acba"/><rect x="307.61" y="627.46" width="2.6" height="2.7" fill="#a7acba"/><rect x="304.48" y="630.68" width="2.6" height="2.7" fill="#a7acba"/><rect x="301.35" y="633.9" width="2.6" height="2.7" fill="#a7acba"/><rect x="298.22" y="637.12" width="2.6" height="2.7" fill="#a7acba"/><rect x="295.09" y="640.34" width="2.6" height="2.7" fill="#a7acba"/><rect x="291.96" y="643.56" width="2.6" height="2.7" fill="#a7acba"/><g shape-rendering="crispEdges"><rect x="259.35" y="92" width="17.55" height="3.75" fill="#a2a2a2"/><rect x="255.9" y="95.45" width="3.75" height="3.75" fill="#a2a2a2"/><rect x="259.35" y="95.45" width="17.55" height="3.75" fill="#505050"/><rect x="276.6" y="95.45" width="3.75" height="3.75" fill="#a2a2a2"/><rect x="252.45" y="98.9" width="3.75" height="3.75" fill="#a2a2a2"/><rect x="255.9" y="98.9" width="3.75" height="3.75" fill="#505050"/><rect x="259.35" y="98.9" width="7.2" height="3.75" fill="#8e8e8e"/><rect x="266.25" y="98.9" width="3.75" height="3.75" fill="#505050"/><rect x="269.7" y="98.9" width="7.2" height="3.75" fill="#8e8e8e"/><rect x="276.6" y="98.9" width="3.75" height="3.75" fill="#505050"/><rect x="280.05" y="98.9" width="3.75" height="3.75" fill="#a2a2a2"/><rect x="252.45" y="102.35" width="3.75" height="3.75" fill="#a2a2a2"/><rect x="255.9" y="102.35" width="3.75" height="3.75" fill="#505050"/><rect x="259.35" y="102.35" width="7.2" height="3.75" fill="#8e8e8e"/><rect x="266.25" y="102.35" width="3.75" height="3.75" fill="#505050"/><rect x="269.7" y="102.35" width="7.2" height="3.75" fill="#8e8e8e"/><rect x="276.6" y="102.35" width="3.75" height="3.75" fill="#505050"/><rect x="280.05" y="102.35" width="3.75" height="3.75" fill="#a2a2a2"/><rect x="249" y="105.8" width="3.75" height="3.75" fill="#a2a2a2"/><rect x="252.45" y="105.8" width="3.75" height="3.75" fill="#505050"/><rect x="255.9" y="105.8" width="10.65" height="3.75" fill="#8e8e8e"/><rect x="266.25" y="105.8" width="3.75" height="3.75" fill="#505050"/><rect x="269.7" y="105.8" width="10.65" height="3.75" fill="#8e8e8e"/><rect x="280.05" y="105.8" width="3.75" height="3.75" fill="#505050"/><rect x="283.5" y="105.8" width="3.75" height="3.75" fill="#a2a2a2"/><rect x="249" y="109.25" width="3.75" height="3.75" fill="#a2a2a2"/><rect x="252.45" y="109.25" width="3.75" height="3.75" fill="#505050"/><rect x="255.9" y="109.25" width="10.65" height="3.75" fill="#8e8e8e"/><rect x="266.25" y="109.25" width="3.75" height="3.75" fill="#505050"/><rect x="269.7" y="109.25" width="10.65" height="3.75" fill="#8e8e8e"/><rect x="280.05" y="109.25" width="3.75" height="3.75" fill="#505050"/><rect x="283.5" y="109.25" width="3.75" height="3.75" fill="#a2a2a2"/><rect x="249" y="112.7" width="3.75" height="3.75" fill="#a2a2a2"/><rect x="252.45" y="112.7" width="3.75" height="3.75" fill="#505050"/><rect x="255.9" y="112.7" width="10.65" height="3.75" fill="#8e8e8e"/><rect x="266.25" y="112.7" width="3.75" height="3.75" fill="#505050"/><rect x="269.7" y="112.7" width="10.65" height="3.75" fill="#8e8e8e"/><rect x="280.05" y="112.7" width="3.75" height="3.75" fill="#505050"/><rect x="283.5" y="112.7" width="3.75" height="3.75" fill="#a2a2a2"/><rect x="249" y="116.15" width="3.75" height="3.75" fill="#a2a2a2"/><rect x="252.45" y="116.15" width="3.75" height="3.75" fill="#505050"/><rect x="255.9" y="116.15" width="10.65" height="3.75" fill="#8e8e8e"/><rect x="266.25" y="116.15" width="3.75" height="3.75" fill="#505050"/><rect x="269.7" y="116.15" width="10.65" height="3.75" fill="#8e8e8e"/><rect x="280.05" y="116.15" width="3.75" height="3.75" fill="#505050"/><rect x="283.5" y="116.15" width="3.75" height="3.75" fill="#a2a2a2"/><rect x="249" y="119.6" width="3.75" height="3.75" fill="#505050"/><rect x="252.45" y="119.6" width="14.1" height="3.75" fill="#8e8e8e"/><rect x="266.25" y="119.6" width="3.75" height="3.75" fill="#505050"/><rect x="269.7" y="119.6" width="14.1" height="3.75" fill="#8e8e8e"/><rect x="283.5" y="119.6" width="3.75" height="3.75" fill="#505050"/><rect x="249" y="123.05" width="3.75" height="3.75" fill="#505050"/><rect x="252.45" y="123.05" width="31.35" height="3.75" fill="#8e8e8e"/><rect x="283.5" y="123.05" width="3.75" height="3.75" fill="#505050"/><rect x="252.45" y="126.5" width="31.35" height="3.75" fill="#a2a2a2"/></g><rect x="248.5" y="145.3" width="38.8" height="39.4" fill="#9a9a9a"/><rect x="254" y="150.7" width="28" height="15.3" fill="#232323"/><rect x="266" y="150.7" width="4.4" height="2.8" fill="#9a9a9a"/><rect x="254" y="163" width="3.5" height="3" fill="#9a9a9a"/><rect x="278.5" y="163" width="3.5" height="3" fill="#9a9a9a"/><rect x="254" y="166" width="28" height="13.5" fill="#9a9a9a"/><rect x="255.8" y="166" width="24.2" height="13.5" fill="#8a8a8a"/><rect x="266" y="176.5" width="4.4" height="3" fill="#9a9a9a"/><rect x="249" y="201.6" width="37.5" height="12" fill="#9a9a9a"/><path d="M265.5 213.6 V218.1 L262.5 222.1 V226.1 L259.5 230.1 V233.1 L257 237.1 V241.1 M271.5 213.6 V218.1 L274.5 222.1 V226.1 L277.5 230.1 V233.1 L280 237.1 V241.1" stroke="#9a9a9a" stroke-width="3.2" fill="none"/><rect x="252.4" y="285.5" width="3.35" height="9" fill="#9a9a9a"/><rect x="255.75" y="277.25" width="3" height="8.25" fill="#9a9a9a"/><rect x="255.75" y="277.25" width="5.25" height="2.25" fill="#9a9a9a"/><rect x="261" y="280.25" width="5.6" height="3" fill="#9a9a9a"/><rect x="263.6" y="271.25" width="3" height="12" fill="#9a9a9a"/><rect x="266.6" y="261.9" width="3.4" height="9" fill="#9a9a9a"/><rect x="272.25" y="276.9" width="14.65" height="2.6" fill="#9a9a9a"/><rect x="278.6" y="270.9" width="2.65" height="15" fill="#9a9a9a"/><rect x="250" y="315.9" width="36.5" height="38" fill="none" stroke="#9a9a9a" stroke-width="2.3"/><polygon points="257.5,321.2 279.5,321.2 279.5,336.7 276.5,340.7 273,344.7 270.5,348.7 266.5,348.7 264,344.7 260.5,340.7 257.5,336.7" fill="#9a9a9a"/><rect x="267" y="373.5" width="3" height="6" fill="#9a9a9a"/><rect x="267" y="382.5" width="3" height="5.5" fill="#9a9a9a"/><rect x="265.5" y="391.5" width="6.5" height="9" fill="#9a9a9a"/><polygon points="261,408.5 264,402.5 264,399.5 273.5,399.5 273.5,402.5 276.5,402.5 276.5,408.5 261,408.5" fill="#9a9a9a"/><rect x="261" y="402.5" width="15.5" height="6.5" fill="#9a9a9a"/><circle cx="268.5" cy="449.3" r="9.5" fill="#9a9a9a"/><path d="M268.5 432.3 V439.3 M268.5 459.3 V466.3 M252 449.3 H260 M277 449.3 H285 M256.5 437.3 L261 441.8 M280.5 437.3 L276 441.8 M256.5 461.3 L261 456.8 M280.5 461.3 L276 456.8" stroke="#9a9a9a" stroke-width="2.8"/><rect x="267.5" y="445.3" width="2" height="8" fill="#888"/><rect x="264.5" y="448.3" width="8" height="2" fill="#888"/><rect x="252" y="483.1" width="6" height="19" fill="#9a9a9a"/><rect x="261" y="483.1" width="6" height="19" fill="#9a9a9a"/><rect x="249" y="502.1" width="37.5" height="19.5" fill="#9a9a9a"/><rect x="270" y="497.1" width="2.5" height="5" fill="#9a9a9a"/><rect x="279" y="497.1" width="2.5" height="5" fill="#9a9a9a"/><rect x="270.5" y="510.1" width="2.3" height="2.5" fill="#777"/><rect x="276.5" y="510.1" width="2.3" height="2.5" fill="#777"/><rect x="282" y="510.1" width="2.3" height="2.5" fill="#777"/><rect x="252" y="545.9" width="31.5" height="31.5" fill="#9a9a9a"/><rect x="253" y="543.25" width="2.8" height="2.85" fill="#9a9a9a"/><rect x="253" y="577.2" width="2.8" height="3.55" fill="#9a9a9a"/><rect x="249" y="547.1" width="3.2" height="2.8" fill="#9a9a9a"/><rect x="283.3" y="547.1" width="3.2" height="2.8" fill="#9a9a9a"/><rect x="258" y="543.25" width="2.8" height="2.85" fill="#9a9a9a"/><rect x="258" y="577.2" width="2.8" height="3.55" fill="#9a9a9a"/><rect x="249" y="552.1" width="3.2" height="2.8" fill="#9a9a9a"/><rect x="283.3" y="552.1" width="3.2" height="2.8" fill="#9a9a9a"/><rect x="263" y="543.25" width="2.8" height="2.85" fill="#9a9a9a"/><rect x="263" y="577.2" width="2.8" height="3.55" fill="#9a9a9a"/><rect x="249" y="557.1" width="3.2" height="2.8" fill="#9a9a9a"/><rect x="283.3" y="557.1" width="3.2" height="2.8" fill="#9a9a9a"/><rect x="268" y="543.25" width="2.8" height="2.85" fill="#9a9a9a"/><rect x="268" y="577.2" width="2.8" height="3.55" fill="#9a9a9a"/><rect x="249" y="562.1" width="3.2" height="2.8" fill="#9a9a9a"/><rect x="283.3" y="562.1" width="3.2" height="2.8" fill="#9a9a9a"/><rect x="273" y="543.25" width="2.8" height="2.85" fill="#9a9a9a"/><rect x="273" y="577.2" width="2.8" height="3.55" fill="#9a9a9a"/><rect x="249" y="567.1" width="3.2" height="2.8" fill="#9a9a9a"/><rect x="283.3" y="567.1" width="3.2" height="2.8" fill="#9a9a9a"/><rect x="278" y="543.25" width="2.8" height="2.85" fill="#9a9a9a"/><rect x="278" y="577.2" width="2.8" height="3.55" fill="#9a9a9a"/><rect x="249" y="572.1" width="3.2" height="2.8" fill="#9a9a9a"/><rect x="283.3" y="572.1" width="3.2" height="2.8" fill="#9a9a9a"/><rect x="283" y="543.25" width="2.8" height="2.85" fill="#9a9a9a"/><rect x="283" y="577.2" width="2.8" height="3.55" fill="#9a9a9a"/><rect x="249" y="577.1" width="3.2" height="2.8" fill="#9a9a9a"/><rect x="283.3" y="577.1" width="3.2" height="2.8" fill="#9a9a9a"/><rect x="258" y="552.25" width="21" height="19.5" fill="#232323"/><rect x="261" y="554.5" width="15" height="15" fill="#9a9a9a"/><rect x="250" y="601.3" width="36.5" height="36.5" fill="none" stroke="#9a9a9a" stroke-width="2.3"/><path d="M254.5 605.7 L282 633.3 M282 605.7 L254.5 633.3" stroke="#9a9a9a" stroke-width="2.3"/><rect x="0" y="716.5" width="239" height="83.5" fill="#3c3c3c"/><rect x="2" y="719" width="235" height="78" fill="#4a4a4a"/><rect x="5.25" y="721" width="72.75" height="73.5" fill="#a7acba"/><rect x="9.75" y="727" width="62.25" height="63" fill="#222"/><rect x="83.25" y="721" width="72" height="73.5" fill="#a7acba"/><rect x="87.75" y="727" width="61.5" height="63" fill="#222"/><rect x="161.25" y="721" width="72" height="73.5" fill="#a7acba"/><rect x="165.75" y="727" width="61.5" height="63" fill="#222"/><path d="M22.5 785 V752 L25 748 L28 744 L31 740 L34 738.5 H55" stroke="#a2a2a2" stroke-width="4.5" fill="none"/><polygon points="53.5,727 57.5,727 57.5,730 60.5,730 60.5,733 63.5,733 63.5,736 66.5,736 66.5,739 68,739 68,741 66.5,741 66.5,744 63.5,744 63.5,747 60.5,747 60.5,750 57.5,750 57.5,752 53.5,752" fill="#a2a2a2"/><rect x="98.25" y="755.5" width="42.75" height="4.5" fill="#b0b4c4"/><rect x="117" y="727" width="4.5" height="63" fill="#9a9a9a"/><polygon points="117,727 121.5,727 121.5,730 124.5,730 124.5,733 127.5,733 127.5,736 130.5,736 130.5,739 131.25,739 131.25,741.5 108,741.5 108,739 108.75,739 108.75,736 111.75,736 111.75,733 114.75,733 114.75,730 117,730" fill="#a8a8a8"/><polygon points="108,775 131.25,775 131.25,778 130.5,778 130.5,781 127.5,781 127.5,784 124.5,784 124.5,787 121.5,787 121.5,790 117,790 117,787 114.75,787 114.75,784 111.75,784 111.75,781 108.75,781 108.75,778 108,778" fill="#888"/><rect x="167.25" y="755.5" width="61.5" height="4.5" fill="#8e8e8e"/><rect x="195.75" y="735.25" width="4.5" height="45" fill="#b0b4c4"/><polygon points="181.5,745.75 181.5,769.75 178.5,769.75 178.5,766.75 175.5,766.75 175.5,763.75 172.5,763.75 172.5,760.75 169.5,760.75 169.5,755 172.5,755 172.5,751.75 175.5,751.75 175.5,748.75 178.5,748.75 178.5,745.75" fill="#8e8e8e"/><polygon points="214.5,745.75 214.5,769.75 217.5,769.75 217.5,766.75 220.5,766.75 220.5,763.75 223.5,763.75 223.5,760.75 226.5,760.75 226.5,755 223.5,755 223.5,751.75 220.5,751.75 220.5,748.75 217.5,748.75 217.5,745.75" fill="#a0a0a0"/><rect x="238.75" y="721" width="210" height="72" fill="#a7acba"/><rect x="245.5" y="726" width="197" height="62" fill="#9a9a9a"/><rect x="306" y="726" width="6" height="62" fill="#2a2a2a"/><rect x="375.75" y="726" width="5" height="62" fill="#2a2a2a"/><path d="M274 758 L300 783" stroke="#2e2e2e" stroke-width="6.5"/><polygon points="248,747 253,745 260,751 266,747 264,740 268,731 274,734 271,739 276,745 275,752 271,757 276,762 272,766 264,758 258,757" fill="#505050"/><rect x="331" y="746" width="25.5" height="24.5" fill="none" stroke="#2a2a2a" stroke-width="5"/><rect x="391" y="754.5" width="25.5" height="23.5" fill="none" stroke="#2a2a2a" stroke-width="4.5"/><path d="M408 738.5 H433 V762 M408 738.5 V752 M417 766 H433" stroke="#2a2a2a" stroke-width="4" fill="none" stroke-dasharray="5 2.5"/><rect x="323" y="0" width="182" height="59.8" fill="#a7acba"/><rect x="329.3" y="4.5" width="49.5" height="49.5" fill="#222"/><rect x="390.2" y="4.5" width="49.5" height="49.5" fill="#222"/><rect x="451" y="4.5" width="49.5" height="49.5" fill="#222"/><g shape-rendering="crispEdges"><rect x="344" y="6.9" width="4.4" height="4.5" fill="#a8a8a8"/><rect x="360.4" y="6.9" width="8.5" height="4.5" fill="#a8a8a8"/><rect x="339.9" y="11.1" width="4.4" height="4.5" fill="#a8a8a8"/><rect x="348.1" y="11.1" width="4.4" height="4.5" fill="#a8a8a8"/><rect x="356.3" y="11.1" width="4.4" height="4.5" fill="#a8a8a8"/><rect x="339.9" y="15.3" width="12.6" height="4.5" fill="#a8a8a8"/><rect x="356.3" y="15.3" width="4.4" height="4.5" fill="#a8a8a8"/><rect x="364.5" y="15.3" width="4.4" height="4.5" fill="#a8a8a8"/><rect x="339.9" y="19.5" width="4.4" height="4.5" fill="#a8a8a8"/><rect x="348.1" y="19.5" width="4.4" height="4.5" fill="#a8a8a8"/><rect x="356.3" y="19.5" width="4.4" height="4.5" fill="#a8a8a8"/><rect x="364.5" y="19.5" width="4.4" height="4.5" fill="#a8a8a8"/><rect x="339.9" y="23.7" width="4.4" height="4.5" fill="#a8a8a8"/><rect x="348.1" y="23.7" width="4.4" height="4.5" fill="#a8a8a8"/><rect x="360.4" y="23.7" width="8.5" height="4.5" fill="#a8a8a8"/></g><g clip-path="url(#agclip)"><clipPath id="agclip"><rect x="329.3" y="4.5" width="49.5" height="49.5"/></clipPath><g shape-rendering="crispEdges"><rect x="339.9" y="35.5" width="8.5" height="4.3" fill="#a8a8a8"/><rect x="356.3" y="35.5" width="4.4" height="4.3" fill="#a8a8a8"/><rect x="368.6" y="35.5" width="8.5" height="4.3" fill="#a8a8a8"/><rect x="335.8" y="39.5" width="4.4" height="4.3" fill="#a8a8a8"/><rect x="352.2" y="39.5" width="4.4" height="4.3" fill="#a8a8a8"/><rect x="360.4" y="39.5" width="4.4" height="4.3" fill="#a8a8a8"/><rect x="368.6" y="39.5" width="4.4" height="4.3" fill="#a8a8a8"/><rect x="376.8" y="39.5" width="4.4" height="4.3" fill="#a8a8a8"/><rect x="335.8" y="43.5" width="4.4" height="4.3" fill="#a8a8a8"/><rect x="352.2" y="43.5" width="4.4" height="4.3" fill="#a8a8a8"/><rect x="360.4" y="43.5" width="4.4" height="4.3" fill="#a8a8a8"/><rect x="368.6" y="43.5" width="4.4" height="4.3" fill="#a8a8a8"/><rect x="376.8" y="43.5" width="4.4" height="4.3" fill="#a8a8a8"/><rect x="339.9" y="47.5" width="8.5" height="4.3" fill="#a8a8a8"/><rect x="356.3" y="47.5" width="4.4" height="4.3" fill="#a8a8a8"/><rect x="368.6" y="47.5" width="4.4" height="4.3" fill="#a8a8a8"/><rect x="376.8" y="47.5" width="4.4" height="4.3" fill="#a8a8a8"/></g><rect x="329.3" y="39.5" width="2.2" height="4" fill="#a8a8a8"/><rect x="329.3" y="47.5" width="2.2" height="4" fill="#a8a8a8"/></g><rect x="397" y="6.75" width="36.5" height="47.25" fill="#999999"/><rect x="421.5" y="6.75" width="12" height="11.75" fill="#7c7c7c"/><rect x="397" y="18.5" width="24.5" height="35.5" fill="#828282"/><rect x="409" y="33" width="24.5" height="10" fill="#9a9a9a"/><rect x="397" y="43" width="24.5" height="11" fill="#7e7e7e"/><polygon points="473.5,10 468,10 468,19 465.5,19 465.5,28 463,28 463,36 461,36 461,54 473.5,54" fill="#f4f4f4"/><polygon points="473.5,10 468,10 468,19 465.5,19 465.5,28 473.5,28" fill="#c8c8c8"/><polygon points="478,10 483.5,10 483.5,19 486,19 486,28 488.5,28 488.5,36 490.5,36 490.5,54 478,54" fill="#9a9a9a"/><rect x="466" y="48.5" width="19.5" height="5.5" fill="#2a2a2a"/><rect x="473.5" y="4.5" width="4.5" height="49.5" fill="#404040"/><rect x="451" y="4.5" width="49.5" height="49.5" fill="none"/><polygon points="880,0 1600,0 1600,79 924.5,79 924.5,73.4 1083.4,73.4 1083.4,4.5 885.4,4.5 885.4,35.5 880,35.5" fill="#a7acba"/><polygon points="885.4,4.5 1083.4,4.5 1083.4,73.4 924.5,73.4 885.4,35.5" fill="#222"/><rect x="885.6" y="35.6" width="4.4" height="4.4" fill="#a7acba"/><rect x="891.2" y="41.05" width="4.4" height="4.4" fill="#a7acba"/><rect x="896.8" y="46.5" width="4.4" height="4.4" fill="#a7acba"/><rect x="902.4" y="51.95" width="4.4" height="4.4" fill="#a7acba"/><rect x="908" y="57.4" width="4.4" height="4.4" fill="#a7acba"/><rect x="913.6" y="62.85" width="4.4" height="4.4" fill="#a7acba"/><rect x="919.2" y="68.3" width="4.4" height="4.4" fill="#a7acba"/><rect x="1094.7" y="4.5" width="244.3" height="68.9" fill="#222"/><rect x="1350" y="4.5" width="245.6" height="68.9" fill="#222"/></svg><div class="a" style="left:0;top:90.5px;width:240px;text-align:center;color:#fff;font-size:45px;letter-spacing:-0.8px;line-height:52px">Control</div><div class="a" style="left:925px;top:22px;color:#f0f0f0;font-size:32px;letter-spacing:-0.35px;line-height:36px;white-space:nowrap">Delete ship</div><div class="a" style="left:1094.7px;top:16px;width:244.3px;text-align:center;color:#fff;font-size:44px;line-height:48px">Save</div><div class="a" style="left:1350px;top:16px;width:245.6px;text-align:center;color:#fff;font-size:44px;line-height:48px">Launch</div><div class="a" style="left:1282px;top:602px;width:318px;height:198px;background:rgba(102,102,100,0.67)"></div><div class="a" style="left:1286px;top:611px;color:#d6d6d6;font-size:14.4px;line-height:18px;white-space:nowrap">Mass: 138,1</div><div class="a" style="left:1286px;top:638px;color:#d6d6d6;font-size:14.4px;line-height:18px;white-space:nowrap">Stored power: 650</div><div class="a" style="left:1286px;top:665px;color:#d6d6d6;font-size:14.4px;line-height:18px;white-space:nowrap">Generated power: 165</div><div class="a" style="left:1286px;top:692px;color:#d6d6d6;font-size:14.4px;line-height:18px;white-space:nowrap">Max. power consumption: 266,9</div><div class="a" style="left:1286px;top:719px;color:#d6d6d6;font-size:14.4px;line-height:18px;white-space:nowrap">Max. power consumption (weapons): 132</div><div class="a" style="left:1286px;top:746px;color:#d6d6d6;font-size:14.4px;line-height:18px;white-space:nowrap">Fuel load: 0</div><div class="a" style="left:1286px;top:773px;color:#d6d6d6;font-size:14.4px;line-height:18px;white-space:nowrap">Max. fuel consumption: 0</div></body></html>
